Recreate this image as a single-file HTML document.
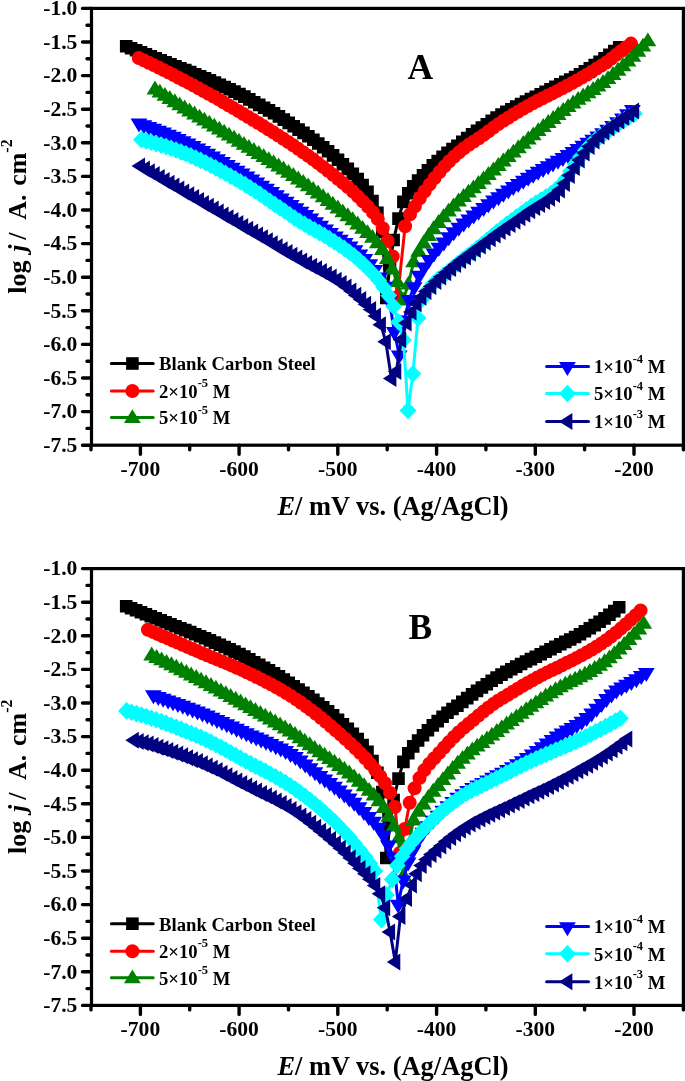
<!DOCTYPE html>
<html lang="en">
<head>
<meta charset="utf-8">
<title>Tafel polarization curves</title>
<style>html,body{margin:0;padding:0;background:#fff}svg{display:block}</style>
</head>
<body>
<svg width="685" height="1081" viewBox="0 0 685 1081" font-family="'Liberation Serif', serif" font-weight="bold" fill="#000">
<rect width="685" height="1081" fill="#fff"/>
<g>
<path d="M126.2 46.2L131.1 48.2L136.1 50.2L141 52.2L145.9 54.2L150.8 56.2L155.8 58.2L160.7 60.2L165.6 62.2L170.5 64.2L175.5 66.2L180.4 68.2L185.3 70.1L190.2 72.1L195.2 74.2L200.1 76.2L205 78.3L209.9 80.4L214.9 82.6L219.8 84.8L224.7 87L229.6 89.2L234.6 91.6L239.5 94L244.4 96.6L249.3 99.4L254.2 102.2L259.2 104.9L264.1 107.7L269 110.4L274 113.3L278.9 116.4L283.8 119.6L288.7 122.9L293.7 126.3L298.6 129.6L303.5 132.9L308.4 136.3L313.4 139.8L318.3 143.5L323.2 147.3L328.1 151.3L333.1 155.4L338 159.7L342.9 164.2L347.8 168.9L352.8 173.8L357.7 179.1L362.6 185L367.5 191.9L372.5 201.1L377.4 212.8L382.3 232L386.3 298L390 264L393.6 240L398.5 218.6L403.4 201.9L408.3 193.2L413.2 186.4L418.1 180.5L423 175.2L427.9 170.2L432.8 165.4L437.7 161.1L442.6 156.8L447.5 152.7L452.5 149L457.4 145.7L462.3 141.9L467.2 138.1L472.1 134.4L477 130.9L481.9 127.5L486.8 124.2L491.7 120.8L496.6 117.6L501.5 114.6L506.4 111.9L511.3 109.2L516.2 106.6L521.1 104L526 101.5L530.9 99.1L535.8 96.7L540.7 94.3L545.6 91.8L550.5 89.3L555.4 86.8L560.3 84.3L565.3 81.9L570.2 79.5L575.1 77L580 74.2L584.9 71.3L589.8 68.2L594.7 65.1L599.6 61.8L604.5 58.4L609.4 54.8L614.3 51.1L619.2 47.2" fill="none" stroke="#000000" stroke-width="3" stroke-linejoin="round"/>
<path d="M119.9 39.9h12.6v12.6h-12.6zM124.8 41.9h12.6v12.6h-12.6zM129.8 43.9h12.6v12.6h-12.6zM134.7 45.9h12.6v12.6h-12.6zM139.6 47.9h12.6v12.6h-12.6zM144.5 49.9h12.6v12.6h-12.6zM149.4 51.9h12.6v12.6h-12.6zM154.4 53.9h12.6v12.6h-12.6zM159.3 55.9h12.6v12.6h-12.6zM164.2 57.9h12.6v12.6h-12.6zM169.2 59.9h12.6v12.6h-12.6zM174.1 61.9h12.6v12.6h-12.6zM179 63.8h12.6v12.6h-12.6zM183.9 65.8h12.6v12.6h-12.6zM188.9 67.9h12.6v12.6h-12.6zM193.8 69.9h12.6v12.6h-12.6zM198.7 72h12.6v12.6h-12.6zM203.6 74.1h12.6v12.6h-12.6zM208.6 76.3h12.6v12.6h-12.6zM213.5 78.5h12.6v12.6h-12.6zM218.4 80.7h12.6v12.6h-12.6zM223.3 82.9h12.6v12.6h-12.6zM228.2 85.3h12.6v12.6h-12.6zM233.2 87.7h12.6v12.6h-12.6zM238.1 90.3h12.6v12.6h-12.6zM243 93.1h12.6v12.6h-12.6zM247.9 95.9h12.6v12.6h-12.6zM252.9 98.6h12.6v12.6h-12.6zM257.8 101.4h12.6v12.6h-12.6zM262.7 104.1h12.6v12.6h-12.6zM267.7 107h12.6v12.6h-12.6zM272.6 110.1h12.6v12.6h-12.6zM277.5 113.3h12.6v12.6h-12.6zM282.4 116.6h12.6v12.6h-12.6zM287.4 120h12.6v12.6h-12.6zM292.3 123.3h12.6v12.6h-12.6zM297.2 126.6h12.6v12.6h-12.6zM302.1 130h12.6v12.6h-12.6zM307.1 133.5h12.6v12.6h-12.6zM312 137.2h12.6v12.6h-12.6zM316.9 141h12.6v12.6h-12.6zM321.8 145h12.6v12.6h-12.6zM326.8 149.1h12.6v12.6h-12.6zM331.7 153.4h12.6v12.6h-12.6zM336.6 157.9h12.6v12.6h-12.6zM341.5 162.6h12.6v12.6h-12.6zM346.5 167.5h12.6v12.6h-12.6zM351.4 172.8h12.6v12.6h-12.6zM356.3 178.7h12.6v12.6h-12.6zM361.2 185.6h12.6v12.6h-12.6zM366.2 194.8h12.6v12.6h-12.6zM371.1 206.5h12.6v12.6h-12.6zM376 225.7h12.6v12.6h-12.6zM380 291.7h12.6v12.6h-12.6zM383.7 257.7h12.6v12.6h-12.6zM387.3 233.7h12.6v12.6h-12.6zM392.2 212.3h12.6v12.6h-12.6zM397.1 195.6h12.6v12.6h-12.6zM402 186.9h12.6v12.6h-12.6zM406.9 180.1h12.6v12.6h-12.6zM411.8 174.2h12.6v12.6h-12.6zM416.7 168.9h12.6v12.6h-12.6zM421.6 163.9h12.6v12.6h-12.6zM426.5 159.1h12.6v12.6h-12.6zM431.4 154.8h12.6v12.6h-12.6zM436.3 150.5h12.6v12.6h-12.6zM441.2 146.4h12.6v12.6h-12.6zM446.2 142.7h12.6v12.6h-12.6zM451.1 139.4h12.6v12.6h-12.6zM456 135.6h12.6v12.6h-12.6zM460.9 131.8h12.6v12.6h-12.6zM465.8 128.1h12.6v12.6h-12.6zM470.7 124.6h12.6v12.6h-12.6zM475.6 121.2h12.6v12.6h-12.6zM480.5 117.9h12.6v12.6h-12.6zM485.4 114.5h12.6v12.6h-12.6zM490.3 111.3h12.6v12.6h-12.6zM495.2 108.3h12.6v12.6h-12.6zM500.1 105.6h12.6v12.6h-12.6zM505 102.9h12.6v12.6h-12.6zM509.9 100.3h12.6v12.6h-12.6zM514.8 97.7h12.6v12.6h-12.6zM519.7 95.2h12.6v12.6h-12.6zM524.6 92.8h12.6v12.6h-12.6zM529.5 90.4h12.6v12.6h-12.6zM534.4 88h12.6v12.6h-12.6zM539.3 85.5h12.6v12.6h-12.6zM544.2 83h12.6v12.6h-12.6zM549.1 80.5h12.6v12.6h-12.6zM554 78h12.6v12.6h-12.6zM559 75.6h12.6v12.6h-12.6zM563.9 73.2h12.6v12.6h-12.6zM568.8 70.7h12.6v12.6h-12.6zM573.7 67.9h12.6v12.6h-12.6zM578.6 65h12.6v12.6h-12.6zM583.5 61.9h12.6v12.6h-12.6zM588.4 58.8h12.6v12.6h-12.6zM593.3 55.5h12.6v12.6h-12.6zM598.2 52.1h12.6v12.6h-12.6zM603.1 48.5h12.6v12.6h-12.6zM608 44.8h12.6v12.6h-12.6zM612.9 40.9h12.6v12.6h-12.6z" fill="#000000"/>
<path d="M138.8 58L143.8 60.3L148.8 62.7L153.7 65.1L158.7 67.6L163.7 70.1L168.7 72.6L173.6 75.1L178.6 77.7L183.6 80.3L188.6 82.9L193.6 85.6L198.5 88.3L203.5 91.1L208.5 93.8L213.5 96.6L218.5 99.4L223.4 102.3L228.4 105.2L233.4 108.1L238.4 111L243.3 114L248.3 117L253.3 120L258.3 123L263.3 126.1L268.2 129.2L273.2 132.3L278.2 135.5L283.2 138.7L288.2 142L293.1 145.3L298.1 148.7L303.1 152.2L308.1 155.7L313 159.3L318 163.1L323 166.9L328 170.8L333 174.8L337.9 178.8L342.9 182.9L347.9 187.1L352.9 191.6L357.9 196.4L362.8 201.4L367.8 206.5L372.8 212.2L377.8 219L382.7 228.3L387.7 241L392.7 256.5L397.6 297L405.1 226.3L410 214.4L414.9 206.4L419.8 198.2L424.7 191.2L429.7 184.4L434.6 178L439.5 172L444.4 166.4L449.3 161.2L454.2 156.5L459.1 152.2L464 148.2L468.9 144.7L473.9 141.5L478.8 138.3L483.7 134.9L488.6 131.2L493.5 127.6L498.4 124.1L503.3 120.8L508.2 117.7L513.1 114.6L518 111.7L523 108.8L527.9 106L532.8 103.3L537.7 100.7L542.6 98.2L547.5 95.8L552.4 93.4L557.3 90.9L562.2 88.3L567.2 85.7L572.1 83.1L577 80.4L581.9 77.6L586.8 74.7L591.7 71.7L596.6 68.6L601.5 65.6L606.4 62.5L611.4 58.6L616.3 54.8L621.2 51L626.1 47.3L631 43.6" fill="none" stroke="#ff0000" stroke-width="3" stroke-linejoin="round"/>
<path d="M131.8 58a7 7 0 1 0 14 0a7 7 0 1 0 -14 0zM136.8 60.3a7 7 0 1 0 14 0a7 7 0 1 0 -14 0zM141.8 62.7a7 7 0 1 0 14 0a7 7 0 1 0 -14 0zM146.7 65.1a7 7 0 1 0 14 0a7 7 0 1 0 -14 0zM151.7 67.6a7 7 0 1 0 14 0a7 7 0 1 0 -14 0zM156.7 70.1a7 7 0 1 0 14 0a7 7 0 1 0 -14 0zM161.7 72.6a7 7 0 1 0 14 0a7 7 0 1 0 -14 0zM166.6 75.1a7 7 0 1 0 14 0a7 7 0 1 0 -14 0zM171.6 77.7a7 7 0 1 0 14 0a7 7 0 1 0 -14 0zM176.6 80.3a7 7 0 1 0 14 0a7 7 0 1 0 -14 0zM181.6 82.9a7 7 0 1 0 14 0a7 7 0 1 0 -14 0zM186.6 85.6a7 7 0 1 0 14 0a7 7 0 1 0 -14 0zM191.5 88.3a7 7 0 1 0 14 0a7 7 0 1 0 -14 0zM196.5 91.1a7 7 0 1 0 14 0a7 7 0 1 0 -14 0zM201.5 93.8a7 7 0 1 0 14 0a7 7 0 1 0 -14 0zM206.5 96.6a7 7 0 1 0 14 0a7 7 0 1 0 -14 0zM211.5 99.4a7 7 0 1 0 14 0a7 7 0 1 0 -14 0zM216.4 102.3a7 7 0 1 0 14 0a7 7 0 1 0 -14 0zM221.4 105.2a7 7 0 1 0 14 0a7 7 0 1 0 -14 0zM226.4 108.1a7 7 0 1 0 14 0a7 7 0 1 0 -14 0zM231.4 111a7 7 0 1 0 14 0a7 7 0 1 0 -14 0zM236.3 114a7 7 0 1 0 14 0a7 7 0 1 0 -14 0zM241.3 117a7 7 0 1 0 14 0a7 7 0 1 0 -14 0zM246.3 120a7 7 0 1 0 14 0a7 7 0 1 0 -14 0zM251.3 123a7 7 0 1 0 14 0a7 7 0 1 0 -14 0zM256.3 126.1a7 7 0 1 0 14 0a7 7 0 1 0 -14 0zM261.2 129.2a7 7 0 1 0 14 0a7 7 0 1 0 -14 0zM266.2 132.3a7 7 0 1 0 14 0a7 7 0 1 0 -14 0zM271.2 135.5a7 7 0 1 0 14 0a7 7 0 1 0 -14 0zM276.2 138.7a7 7 0 1 0 14 0a7 7 0 1 0 -14 0zM281.2 142a7 7 0 1 0 14 0a7 7 0 1 0 -14 0zM286.1 145.3a7 7 0 1 0 14 0a7 7 0 1 0 -14 0zM291.1 148.7a7 7 0 1 0 14 0a7 7 0 1 0 -14 0zM296.1 152.2a7 7 0 1 0 14 0a7 7 0 1 0 -14 0zM301.1 155.7a7 7 0 1 0 14 0a7 7 0 1 0 -14 0zM306 159.3a7 7 0 1 0 14 0a7 7 0 1 0 -14 0zM311 163.1a7 7 0 1 0 14 0a7 7 0 1 0 -14 0zM316 166.9a7 7 0 1 0 14 0a7 7 0 1 0 -14 0zM321 170.8a7 7 0 1 0 14 0a7 7 0 1 0 -14 0zM326 174.8a7 7 0 1 0 14 0a7 7 0 1 0 -14 0zM330.9 178.8a7 7 0 1 0 14 0a7 7 0 1 0 -14 0zM335.9 182.9a7 7 0 1 0 14 0a7 7 0 1 0 -14 0zM340.9 187.1a7 7 0 1 0 14 0a7 7 0 1 0 -14 0zM345.9 191.6a7 7 0 1 0 14 0a7 7 0 1 0 -14 0zM350.9 196.4a7 7 0 1 0 14 0a7 7 0 1 0 -14 0zM355.8 201.4a7 7 0 1 0 14 0a7 7 0 1 0 -14 0zM360.8 206.5a7 7 0 1 0 14 0a7 7 0 1 0 -14 0zM365.8 212.2a7 7 0 1 0 14 0a7 7 0 1 0 -14 0zM370.8 219a7 7 0 1 0 14 0a7 7 0 1 0 -14 0zM375.7 228.3a7 7 0 1 0 14 0a7 7 0 1 0 -14 0zM380.7 241a7 7 0 1 0 14 0a7 7 0 1 0 -14 0zM385.7 256.5a7 7 0 1 0 14 0a7 7 0 1 0 -14 0zM390.6 297a7 7 0 1 0 14 0a7 7 0 1 0 -14 0zM398.1 226.3a7 7 0 1 0 14 0a7 7 0 1 0 -14 0zM403 214.4a7 7 0 1 0 14 0a7 7 0 1 0 -14 0zM407.9 206.4a7 7 0 1 0 14 0a7 7 0 1 0 -14 0zM412.8 198.2a7 7 0 1 0 14 0a7 7 0 1 0 -14 0zM417.7 191.2a7 7 0 1 0 14 0a7 7 0 1 0 -14 0zM422.7 184.4a7 7 0 1 0 14 0a7 7 0 1 0 -14 0zM427.6 178a7 7 0 1 0 14 0a7 7 0 1 0 -14 0zM432.5 172a7 7 0 1 0 14 0a7 7 0 1 0 -14 0zM437.4 166.4a7 7 0 1 0 14 0a7 7 0 1 0 -14 0zM442.3 161.2a7 7 0 1 0 14 0a7 7 0 1 0 -14 0zM447.2 156.5a7 7 0 1 0 14 0a7 7 0 1 0 -14 0zM452.1 152.2a7 7 0 1 0 14 0a7 7 0 1 0 -14 0zM457 148.2a7 7 0 1 0 14 0a7 7 0 1 0 -14 0zM461.9 144.7a7 7 0 1 0 14 0a7 7 0 1 0 -14 0zM466.9 141.5a7 7 0 1 0 14 0a7 7 0 1 0 -14 0zM471.8 138.3a7 7 0 1 0 14 0a7 7 0 1 0 -14 0zM476.7 134.9a7 7 0 1 0 14 0a7 7 0 1 0 -14 0zM481.6 131.2a7 7 0 1 0 14 0a7 7 0 1 0 -14 0zM486.5 127.6a7 7 0 1 0 14 0a7 7 0 1 0 -14 0zM491.4 124.1a7 7 0 1 0 14 0a7 7 0 1 0 -14 0zM496.3 120.8a7 7 0 1 0 14 0a7 7 0 1 0 -14 0zM501.2 117.7a7 7 0 1 0 14 0a7 7 0 1 0 -14 0zM506.1 114.6a7 7 0 1 0 14 0a7 7 0 1 0 -14 0zM511 111.7a7 7 0 1 0 14 0a7 7 0 1 0 -14 0zM516 108.8a7 7 0 1 0 14 0a7 7 0 1 0 -14 0zM520.9 106a7 7 0 1 0 14 0a7 7 0 1 0 -14 0zM525.8 103.3a7 7 0 1 0 14 0a7 7 0 1 0 -14 0zM530.7 100.7a7 7 0 1 0 14 0a7 7 0 1 0 -14 0zM535.6 98.2a7 7 0 1 0 14 0a7 7 0 1 0 -14 0zM540.5 95.8a7 7 0 1 0 14 0a7 7 0 1 0 -14 0zM545.4 93.4a7 7 0 1 0 14 0a7 7 0 1 0 -14 0zM550.3 90.9a7 7 0 1 0 14 0a7 7 0 1 0 -14 0zM555.2 88.3a7 7 0 1 0 14 0a7 7 0 1 0 -14 0zM560.2 85.7a7 7 0 1 0 14 0a7 7 0 1 0 -14 0zM565.1 83.1a7 7 0 1 0 14 0a7 7 0 1 0 -14 0zM570 80.4a7 7 0 1 0 14 0a7 7 0 1 0 -14 0zM574.9 77.6a7 7 0 1 0 14 0a7 7 0 1 0 -14 0zM579.8 74.7a7 7 0 1 0 14 0a7 7 0 1 0 -14 0zM584.7 71.7a7 7 0 1 0 14 0a7 7 0 1 0 -14 0zM589.6 68.6a7 7 0 1 0 14 0a7 7 0 1 0 -14 0zM594.5 65.6a7 7 0 1 0 14 0a7 7 0 1 0 -14 0zM599.4 62.5a7 7 0 1 0 14 0a7 7 0 1 0 -14 0zM604.4 58.6a7 7 0 1 0 14 0a7 7 0 1 0 -14 0zM609.3 54.8a7 7 0 1 0 14 0a7 7 0 1 0 -14 0zM614.2 51a7 7 0 1 0 14 0a7 7 0 1 0 -14 0zM619.1 47.3a7 7 0 1 0 14 0a7 7 0 1 0 -14 0zM624 43.6a7 7 0 1 0 14 0a7 7 0 1 0 -14 0z" fill="#ff0000"/>
<path d="M155 88.9L159.9 92.1L164.9 95.3L169.8 98.5L174.8 101.7L179.7 104.8L184.7 107.9L189.6 111L194.5 114L199.5 117.1L204.4 120.1L209.4 123.1L214.3 126.1L219.3 129.1L224.2 132.1L229.1 135.1L234.1 138.1L239 141.2L244 144.3L248.9 147.3L253.9 150.4L258.8 153.5L263.7 156.5L268.7 159.6L273.6 162.7L278.6 165.9L283.5 169L288.5 172.3L293.4 175.5L298.3 178.9L303.3 182.3L308.2 185.8L313.2 189.4L318.1 193L323.1 196.7L328 200.5L332.9 204.2L337.9 208L342.8 211.8L347.8 215.7L352.7 219.7L357.7 223.9L362.6 228.3L367.5 232.6L372.5 237.3L377.4 242.7L382.4 249.5L387.3 258.6L392.3 269.1L397.2 281.5L403 300L408.5 284L413.6 261.8L418.6 251.2L423.6 242.9L428.6 235.5L433.5 228.7L438.5 222.5L443.5 216.7L448.5 211.1L453.5 205.9L458.5 201L463.5 196.5L468.4 192.1L473.4 187.8L478.4 183.4L483.4 178.9L488.4 174.4L493.4 169.9L498.3 165.5L503.3 161L508.3 156.6L513.3 152.1L518.3 147.7L523.3 143.3L528.3 139L533.2 134.8L538.2 130.6L543.2 126.5L548.2 122.4L553.2 118.4L558.2 114.4L563.2 110.5L568.1 106.6L573.1 102.9L578.1 99.3L583.1 95.9L588.1 92.7L593.1 89.4L598 86L603 82.5L608 78.6L613 74.5L618 70.2L623 65.7L628 61.1L632.9 56.3L637.9 51.3L642.9 46.1L647.9 40.8" fill="none" stroke="#008000" stroke-width="3" stroke-linejoin="round"/>
<path d="M155 80.5L163.4 94.4L146.6 94.4zM159.9 83.7L168.3 97.6L151.5 97.6zM164.9 86.9L173.3 100.8L156.5 100.8zM169.8 90.1L178.2 104L161.4 104zM174.8 93.3L183.2 107.2L166.4 107.2zM179.7 96.4L188.1 110.3L171.3 110.3zM184.7 99.5L193.1 113.4L176.3 113.4zM189.6 102.6L198 116.5L181.2 116.5zM194.5 105.6L202.9 119.5L186.1 119.5zM199.5 108.7L207.9 122.6L191.1 122.6zM204.4 111.7L212.8 125.6L196 125.6zM209.4 114.7L217.8 128.6L201 128.6zM214.3 117.7L222.7 131.6L205.9 131.6zM219.3 120.7L227.7 134.6L210.9 134.6zM224.2 123.7L232.6 137.6L215.8 137.6zM229.1 126.7L237.5 140.6L220.7 140.6zM234.1 129.7L242.5 143.6L225.7 143.6zM239 132.8L247.4 146.7L230.6 146.7zM244 135.9L252.4 149.8L235.6 149.8zM248.9 138.9L257.3 152.8L240.5 152.8zM253.9 142L262.3 155.9L245.5 155.9zM258.8 145.1L267.2 159L250.4 159zM263.7 148.1L272.1 162L255.3 162zM268.7 151.2L277.1 165.1L260.3 165.1zM273.6 154.3L282 168.2L265.2 168.2zM278.6 157.5L287 171.4L270.2 171.4zM283.5 160.6L291.9 174.5L275.1 174.5zM288.5 163.9L296.9 177.8L280.1 177.8zM293.4 167.1L301.8 181L285 181zM298.3 170.5L306.7 184.4L289.9 184.4zM303.3 173.9L311.7 187.8L294.9 187.8zM308.2 177.4L316.6 191.3L299.8 191.3zM313.2 181L321.6 194.9L304.8 194.9zM318.1 184.6L326.5 198.5L309.7 198.5zM323.1 188.3L331.5 202.2L314.7 202.2zM328 192.1L336.4 206L319.6 206zM332.9 195.8L341.3 209.7L324.5 209.7zM337.9 199.6L346.3 213.5L329.5 213.5zM342.8 203.4L351.2 217.3L334.4 217.3zM347.8 207.3L356.2 221.2L339.4 221.2zM352.7 211.3L361.1 225.2L344.3 225.2zM357.7 215.5L366.1 229.4L349.3 229.4zM362.6 219.9L371 233.8L354.2 233.8zM367.5 224.2L375.9 238.1L359.1 238.1zM372.5 228.9L380.9 242.8L364.1 242.8zM377.4 234.3L385.8 248.2L369 248.2zM382.4 241.1L390.8 255L374 255zM387.3 250.2L395.7 264.1L378.9 264.1zM392.3 260.7L400.7 274.6L383.9 274.6zM397.2 273.1L405.6 287L388.8 287zM403 291.6L411.4 305.5L394.6 305.5zM408.5 275.6L416.9 289.5L400.1 289.5zM413.6 253.4L422 267.3L405.2 267.3zM418.6 242.8L427 256.7L410.2 256.7zM423.6 234.5L432 248.4L415.2 248.4zM428.6 227.1L437 241L420.2 241zM433.5 220.3L441.9 234.2L425.1 234.2zM438.5 214.1L446.9 228L430.1 228zM443.5 208.3L451.9 222.2L435.1 222.2zM448.5 202.7L456.9 216.6L440.1 216.6zM453.5 197.5L461.9 211.4L445.1 211.4zM458.5 192.6L466.9 206.5L450.1 206.5zM463.5 188.1L471.9 202L455.1 202zM468.4 183.7L476.8 197.6L460 197.6zM473.4 179.4L481.8 193.3L465 193.3zM478.4 175L486.8 188.9L470 188.9zM483.4 170.5L491.8 184.4L475 184.4zM488.4 166L496.8 179.9L480 179.9zM493.4 161.5L501.8 175.4L485 175.4zM498.3 157.1L506.7 171L489.9 171zM503.3 152.6L511.7 166.5L494.9 166.5zM508.3 148.2L516.7 162.1L499.9 162.1zM513.3 143.7L521.7 157.6L504.9 157.6zM518.3 139.3L526.7 153.2L509.9 153.2zM523.3 134.9L531.7 148.8L514.9 148.8zM528.3 130.6L536.7 144.5L519.9 144.5zM533.2 126.4L541.6 140.3L524.8 140.3zM538.2 122.2L546.6 136.1L529.8 136.1zM543.2 118.1L551.6 132L534.8 132zM548.2 114L556.6 127.9L539.8 127.9zM553.2 110L561.6 123.9L544.8 123.9zM558.2 106L566.6 119.9L549.8 119.9zM563.2 102.1L571.6 116L554.8 116zM568.1 98.2L576.5 112.1L559.7 112.1zM573.1 94.5L581.5 108.4L564.7 108.4zM578.1 90.9L586.5 104.8L569.7 104.8zM583.1 87.5L591.5 101.4L574.7 101.4zM588.1 84.3L596.5 98.2L579.7 98.2zM593.1 81L601.5 94.9L584.7 94.9zM598 77.6L606.4 91.5L589.6 91.5zM603 74.1L611.4 88L594.6 88zM608 70.2L616.4 84.1L599.6 84.1zM613 66.1L621.4 80L604.6 80zM618 61.8L626.4 75.7L609.6 75.7zM623 57.3L631.4 71.2L614.6 71.2zM628 52.7L636.4 66.6L619.6 66.6zM632.9 47.9L641.3 61.8L624.5 61.8zM637.9 42.9L646.3 56.8L629.5 56.8zM642.9 37.7L651.3 51.6L634.5 51.6zM647.9 32.4L656.3 46.3L639.5 46.3z" fill="#008000"/>
<path d="M139 123L143.9 124.7L148.8 126.4L153.7 128.2L158.6 130.1L163.5 132L168.5 134.1L173.4 136.2L178.3 138.3L183.2 140.6L188.1 142.9L193 145.3L197.9 147.9L202.8 150.5L207.7 153.2L212.6 155.9L217.6 158.7L222.5 161.5L227.4 164.4L232.3 167.2L237.2 170.1L242.1 173L247 176L251.9 179L256.8 182L261.7 185.1L266.6 188.2L271.6 191.4L276.5 194.6L281.4 197.8L286.3 201.1L291.2 204.4L296.1 207.7L301 211.1L305.9 214.5L310.8 218L315.7 221.6L320.7 225.2L325.6 228.8L330.5 232.3L335.4 235.8L340.3 239.1L345.2 242.4L350.1 245.9L355 249.7L359.9 253.9L364.8 258.5L369.8 263.6L374.7 269.5L379.6 276.8L384.5 286.2L389.4 300.7L394.3 331.3L399.2 355L404.2 320L409.2 299.5L414.1 286.7L419.1 275.1L424 266.8L429 259.5L434 253L438.9 247.2L443.9 241.8L448.8 236.7L453.8 231.7L458.8 227.2L463.7 222.9L468.7 218.9L473.7 214.9L478.6 211.1L483.6 207.3L488.5 203.6L493.5 200L498.5 196.6L503.4 193.2L508.4 189.8L513.3 186.5L518.3 183.3L523.3 180.2L528.2 177.1L533.2 174.1L538.1 171.2L543.1 168.5L548.1 165.7L553 163L558 160.2L562.9 157.3L567.9 154.3L572.9 151.3L577.8 148.3L582.8 145.2L587.8 142.2L592.7 139.1L597.7 136L602.6 132.6L607.6 129.2L612.6 125.5L617.5 121.7L622.5 117.8L627.4 113.7L632.4 109.5" fill="none" stroke="#0000ff" stroke-width="3" stroke-linejoin="round"/>
<path d="M139 132.6L147.4 118.6L130.6 118.6zM143.9 134.3L152.3 120.3L135.5 120.3zM148.8 136L157.2 122L140.4 122zM153.7 137.8L162.1 123.8L145.3 123.8zM158.6 139.7L167 125.7L150.2 125.7zM163.5 141.6L171.9 127.6L155.1 127.6zM168.5 143.7L176.9 129.7L160.1 129.7zM173.4 145.8L181.8 131.8L165 131.8zM178.3 147.9L186.7 133.9L169.9 133.9zM183.2 150.2L191.6 136.2L174.8 136.2zM188.1 152.5L196.5 138.5L179.7 138.5zM193 154.9L201.4 140.9L184.6 140.9zM197.9 157.5L206.3 143.5L189.5 143.5zM202.8 160.1L211.2 146.1L194.4 146.1zM207.7 162.8L216.1 148.8L199.3 148.8zM212.6 165.5L221 151.5L204.2 151.5zM217.6 168.3L226 154.3L209.2 154.3zM222.5 171.1L230.9 157.1L214.1 157.1zM227.4 174L235.8 160L219 160zM232.3 176.8L240.7 162.8L223.9 162.8zM237.2 179.7L245.6 165.7L228.8 165.7zM242.1 182.6L250.5 168.6L233.7 168.6zM247 185.6L255.4 171.6L238.6 171.6zM251.9 188.6L260.3 174.6L243.5 174.6zM256.8 191.6L265.2 177.6L248.4 177.6zM261.7 194.7L270.1 180.7L253.3 180.7zM266.6 197.8L275 183.8L258.2 183.8zM271.6 201L280 187L263.2 187zM276.5 204.2L284.9 190.2L268.1 190.2zM281.4 207.4L289.8 193.4L273 193.4zM286.3 210.7L294.7 196.7L277.9 196.7zM291.2 214L299.6 200L282.8 200zM296.1 217.3L304.5 203.3L287.7 203.3zM301 220.7L309.4 206.7L292.6 206.7zM305.9 224.1L314.3 210.1L297.5 210.1zM310.8 227.6L319.2 213.6L302.4 213.6zM315.7 231.2L324.1 217.2L307.3 217.2zM320.7 234.8L329.1 220.8L312.3 220.8zM325.6 238.4L334 224.4L317.2 224.4zM330.5 241.9L338.9 227.9L322.1 227.9zM335.4 245.4L343.8 231.4L327 231.4zM340.3 248.7L348.7 234.7L331.9 234.7zM345.2 252L353.6 238L336.8 238zM350.1 255.5L358.5 241.5L341.7 241.5zM355 259.3L363.4 245.3L346.6 245.3zM359.9 263.5L368.3 249.5L351.5 249.5zM364.8 268.1L373.2 254.1L356.4 254.1zM369.8 273.2L378.2 259.2L361.4 259.2zM374.7 279.1L383.1 265.1L366.3 265.1zM379.6 286.4L388 272.4L371.2 272.4zM384.5 295.8L392.9 281.8L376.1 281.8zM389.4 310.3L397.8 296.3L381 296.3zM394.3 340.9L402.7 326.9L385.9 326.9zM399.2 364.6L407.6 350.6L390.8 350.6zM404.2 329.6L412.6 315.6L395.8 315.6zM409.2 309.1L417.6 295.1L400.8 295.1zM414.1 296.3L422.5 282.3L405.7 282.3zM419.1 284.7L427.5 270.7L410.7 270.7zM424 276.4L432.4 262.4L415.6 262.4zM429 269.1L437.4 255.1L420.6 255.1zM434 262.6L442.4 248.6L425.6 248.6zM438.9 256.8L447.3 242.8L430.5 242.8zM443.9 251.4L452.3 237.4L435.5 237.4zM448.8 246.3L457.2 232.3L440.4 232.3zM453.8 241.3L462.2 227.3L445.4 227.3zM458.8 236.8L467.2 222.8L450.4 222.8zM463.7 232.5L472.1 218.5L455.3 218.5zM468.7 228.5L477.1 214.5L460.3 214.5zM473.7 224.5L482.1 210.5L465.3 210.5zM478.6 220.7L487 206.7L470.2 206.7zM483.6 216.9L492 202.9L475.2 202.9zM488.5 213.2L496.9 199.2L480.1 199.2zM493.5 209.6L501.9 195.6L485.1 195.6zM498.5 206.2L506.9 192.2L490.1 192.2zM503.4 202.8L511.8 188.8L495 188.8zM508.4 199.4L516.8 185.4L500 185.4zM513.3 196.1L521.7 182.1L504.9 182.1zM518.3 192.9L526.7 178.9L509.9 178.9zM523.3 189.8L531.7 175.8L514.9 175.8zM528.2 186.7L536.6 172.7L519.8 172.7zM533.2 183.7L541.6 169.7L524.8 169.7zM538.1 180.8L546.5 166.8L529.7 166.8zM543.1 178.1L551.5 164.1L534.7 164.1zM548.1 175.3L556.5 161.3L539.7 161.3zM553 172.6L561.4 158.6L544.6 158.6zM558 169.8L566.4 155.8L549.6 155.8zM562.9 166.9L571.3 152.9L554.5 152.9zM567.9 163.9L576.3 149.9L559.5 149.9zM572.9 160.9L581.3 146.9L564.5 146.9zM577.8 157.9L586.2 143.9L569.4 143.9zM582.8 154.8L591.2 140.8L574.4 140.8zM587.8 151.8L596.2 137.8L579.4 137.8zM592.7 148.7L601.1 134.7L584.3 134.7zM597.7 145.6L606.1 131.6L589.3 131.6zM602.6 142.2L611 128.2L594.2 128.2zM607.6 138.8L616 124.8L599.2 124.8zM612.6 135.1L621 121.1L604.2 121.1zM617.5 131.3L625.9 117.3L609.1 117.3zM622.5 127.4L630.9 113.4L614.1 113.4zM627.4 123.3L635.8 109.3L619 109.3zM632.4 119.1L640.8 105.1L624 105.1z" fill="#0000ff"/>
<path d="M141.4 139.7L146.3 140.9L151.3 142.2L156.2 143.6L161.2 145.1L166.1 146.6L171.1 148.3L176 150L181 151.9L185.9 153.8L190.9 155.9L195.8 158.1L200.7 160.4L205.7 162.8L210.6 165.3L215.6 167.9L220.5 170.6L225.5 173.3L230.4 176L235.4 178.8L240.3 181.7L245.3 184.6L250.2 187.7L255.1 191L260.1 194.3L265 197.7L270 201.2L274.9 204.6L279.9 207.9L284.8 211.3L289.8 214.7L294.7 218.1L299.6 221.3L304.6 224.3L309.5 227.1L314.5 229.9L319.4 232.6L324.4 235.5L329.3 238.6L334.3 241.8L339.2 245L344.2 248.4L349.1 252L354 255.8L359 260.1L363.9 264.6L368.9 269.4L373.8 274.6L378.8 280.5L383.7 287.4L388.7 295.6L393.6 306.4L398.6 322L403.5 340L408 410.4L412.9 373.7L418 318L422.9 298.2L427.8 290.1L432.8 284.1L437.7 279.6L442.6 275.9L447.5 272.1L452.4 267.8L457.4 263.7L462.3 259.8L467.2 256L472.1 252.2L477 248.4L482 244.4L486.9 240.3L491.8 236.2L496.7 232.1L501.6 228.2L506.6 224.4L511.5 220.7L516.4 217.1L521.3 213.5L526.2 209.9L531.2 206.4L536.1 203.1L541 200L545.9 197L550.9 193.7L555.8 189.8L560.7 185.3L565.6 178.9L570.5 171.2L575.5 163.9L580.4 157L585.3 150.4L590.2 144.8L595.1 140.4L600.1 136.6L605 133L609.9 129.5L614.8 126L619.7 122.7L624.7 119.5L629.6 116.5L634.5 113.6" fill="none" stroke="#00ffff" stroke-width="3" stroke-linejoin="round"/>
<path d="M141.4 130.9L149.8 139.7L141.4 148.5L133 139.7zM146.3 132.1L154.7 140.9L146.3 149.7L137.9 140.9zM151.3 133.4L159.7 142.2L151.3 151L142.9 142.2zM156.2 134.8L164.6 143.6L156.2 152.4L147.8 143.6zM161.2 136.3L169.6 145.1L161.2 153.9L152.8 145.1zM166.1 137.8L174.5 146.6L166.1 155.4L157.7 146.6zM171.1 139.5L179.5 148.3L171.1 157.1L162.7 148.3zM176 141.2L184.4 150L176 158.8L167.6 150zM181 143.1L189.4 151.9L181 160.7L172.6 151.9zM185.9 145L194.3 153.8L185.9 162.6L177.5 153.8zM190.9 147.1L199.3 155.9L190.9 164.7L182.5 155.9zM195.8 149.3L204.2 158.1L195.8 166.9L187.4 158.1zM200.7 151.6L209.1 160.4L200.7 169.2L192.3 160.4zM205.7 154L214.1 162.8L205.7 171.6L197.3 162.8zM210.6 156.5L219 165.3L210.6 174.1L202.2 165.3zM215.6 159.1L224 167.9L215.6 176.7L207.2 167.9zM220.5 161.8L228.9 170.6L220.5 179.4L212.1 170.6zM225.5 164.5L233.9 173.3L225.5 182.1L217.1 173.3zM230.4 167.2L238.8 176L230.4 184.8L222 176zM235.4 170L243.8 178.8L235.4 187.6L227 178.8zM240.3 172.9L248.7 181.7L240.3 190.5L231.9 181.7zM245.3 175.8L253.7 184.6L245.3 193.4L236.9 184.6zM250.2 178.9L258.6 187.7L250.2 196.5L241.8 187.7zM255.1 182.2L263.5 191L255.1 199.8L246.7 191zM260.1 185.5L268.5 194.3L260.1 203.1L251.7 194.3zM265 188.9L273.4 197.7L265 206.5L256.6 197.7zM270 192.4L278.4 201.2L270 210L261.6 201.2zM274.9 195.8L283.3 204.6L274.9 213.4L266.5 204.6zM279.9 199.1L288.3 207.9L279.9 216.7L271.5 207.9zM284.8 202.5L293.2 211.3L284.8 220.1L276.4 211.3zM289.8 205.9L298.2 214.7L289.8 223.5L281.4 214.7zM294.7 209.3L303.1 218.1L294.7 226.9L286.3 218.1zM299.6 212.5L308 221.3L299.6 230.1L291.2 221.3zM304.6 215.5L313 224.3L304.6 233.1L296.2 224.3zM309.5 218.3L317.9 227.1L309.5 235.9L301.1 227.1zM314.5 221.1L322.9 229.9L314.5 238.7L306.1 229.9zM319.4 223.8L327.8 232.6L319.4 241.4L311 232.6zM324.4 226.7L332.8 235.5L324.4 244.3L316 235.5zM329.3 229.8L337.7 238.6L329.3 247.4L320.9 238.6zM334.3 233L342.7 241.8L334.3 250.6L325.9 241.8zM339.2 236.2L347.6 245L339.2 253.8L330.8 245zM344.2 239.6L352.6 248.4L344.2 257.2L335.8 248.4zM349.1 243.2L357.5 252L349.1 260.8L340.7 252zM354 247L362.4 255.8L354 264.6L345.6 255.8zM359 251.3L367.4 260.1L359 268.9L350.6 260.1zM363.9 255.8L372.3 264.6L363.9 273.4L355.5 264.6zM368.9 260.6L377.3 269.4L368.9 278.2L360.5 269.4zM373.8 265.8L382.2 274.6L373.8 283.4L365.4 274.6zM378.8 271.7L387.2 280.5L378.8 289.3L370.4 280.5zM383.7 278.6L392.1 287.4L383.7 296.2L375.3 287.4zM388.7 286.8L397.1 295.6L388.7 304.4L380.3 295.6zM393.6 297.6L402 306.4L393.6 315.2L385.2 306.4zM398.6 313.2L407 322L398.6 330.8L390.2 322zM403.5 331.2L411.9 340L403.5 348.8L395.1 340zM408 401.6L416.4 410.4L408 419.2L399.6 410.4zM412.9 364.9L421.3 373.7L412.9 382.5L404.5 373.7zM418 309.2L426.4 318L418 326.8L409.6 318zM422.9 289.4L431.3 298.2L422.9 307L414.5 298.2zM427.8 281.3L436.2 290.1L427.8 298.9L419.4 290.1zM432.8 275.3L441.2 284.1L432.8 292.9L424.4 284.1zM437.7 270.8L446.1 279.6L437.7 288.4L429.3 279.6zM442.6 267.1L451 275.9L442.6 284.7L434.2 275.9zM447.5 263.3L455.9 272.1L447.5 280.9L439.1 272.1zM452.4 259L460.8 267.8L452.4 276.6L444 267.8zM457.4 254.9L465.8 263.7L457.4 272.5L449 263.7zM462.3 251L470.7 259.8L462.3 268.6L453.9 259.8zM467.2 247.2L475.6 256L467.2 264.8L458.8 256zM472.1 243.4L480.5 252.2L472.1 261L463.7 252.2zM477 239.6L485.4 248.4L477 257.2L468.6 248.4zM482 235.6L490.4 244.4L482 253.2L473.6 244.4zM486.9 231.5L495.3 240.3L486.9 249.1L478.5 240.3zM491.8 227.4L500.2 236.2L491.8 245L483.4 236.2zM496.7 223.3L505.1 232.1L496.7 240.9L488.3 232.1zM501.6 219.4L510 228.2L501.6 237L493.2 228.2zM506.6 215.6L515 224.4L506.6 233.2L498.2 224.4zM511.5 211.9L519.9 220.7L511.5 229.5L503.1 220.7zM516.4 208.3L524.8 217.1L516.4 225.9L508 217.1zM521.3 204.7L529.7 213.5L521.3 222.3L512.9 213.5zM526.2 201.1L534.6 209.9L526.2 218.7L517.9 209.9zM531.2 197.6L539.6 206.4L531.2 215.2L522.8 206.4zM536.1 194.3L544.5 203.1L536.1 211.9L527.7 203.1zM541 191.2L549.4 200L541 208.8L532.6 200zM545.9 188.2L554.3 197L545.9 205.8L537.5 197zM550.9 184.9L559.3 193.7L550.9 202.5L542.5 193.7zM555.8 181L564.2 189.8L555.8 198.6L547.4 189.8zM560.7 176.5L569.1 185.3L560.7 194.1L552.3 185.3zM565.6 170.1L574 178.9L565.6 187.7L557.2 178.9zM570.5 162.4L578.9 171.2L570.5 180L562.1 171.2zM575.5 155.1L583.9 163.9L575.5 172.7L567.1 163.9zM580.4 148.2L588.8 157L580.4 165.8L572 157zM585.3 141.6L593.7 150.4L585.3 159.2L576.9 150.4zM590.2 136L598.6 144.8L590.2 153.6L581.8 144.8zM595.1 131.6L603.5 140.4L595.1 149.2L586.7 140.4zM600.1 127.8L608.5 136.6L600.1 145.4L591.7 136.6zM605 124.2L613.4 133L605 141.8L596.6 133zM609.9 120.7L618.3 129.5L609.9 138.3L601.5 129.5zM614.8 117.2L623.2 126L614.8 134.8L606.4 126zM619.7 113.9L628.1 122.7L619.7 131.5L611.3 122.7zM624.7 110.7L633.1 119.5L624.7 128.3L616.3 119.5zM629.6 107.7L638 116.5L629.6 125.3L621.2 116.5zM634.5 104.8L642.9 113.6L634.5 122.4L626.1 113.6z" fill="#00ffff"/>
<path d="M140 166L144.9 168.9L149.8 171.8L154.7 174.6L159.7 177.5L164.6 180.4L169.5 183.3L174.4 186.1L179.3 189L184.2 191.9L189.2 194.8L194.1 197.6L199 200.5L203.9 203.4L208.8 206.3L213.7 209.1L218.7 212L223.6 214.9L228.5 217.8L233.4 220.6L238.3 223.5L243.2 226.4L248.2 229.2L253.1 232.1L258 234.9L262.9 237.8L267.8 240.7L272.7 243.7L277.6 246.8L282.6 249.7L287.5 252.5L292.4 255.3L297.3 258.1L302.2 260.9L307.1 263.6L312.1 266.2L317 268.8L321.9 271.5L326.8 274.2L331.7 277.1L336.6 280.2L341.6 283.5L346.5 287.1L351.4 291L356.3 295.2L361.2 299.6L366.1 304.3L371.1 309.5L376 315.9L380.9 324.8L385.8 341.7L391.4 378.5L396.3 371.6L401.2 339.7L406.6 323L411.5 311.9L416.5 303.8L421.4 297.2L426.4 291.5L431.3 286.4L436.3 281.6L441.2 277.1L446.2 272.8L451.1 268.5L456.1 264.5L461 260.6L465.9 256.9L470.9 253.2L475.8 249.6L480.8 245.9L485.7 242.3L490.7 238.7L495.6 235.1L500.6 231.6L505.5 228.1L510.5 224.6L515.4 221.2L520.4 217.7L525.3 214.3L530.2 210.8L535.2 207.6L540.1 204.6L545.1 201.6L550 198.3L555 194.6L559.9 190.1L564.9 183.6L569.8 175.4L574.8 167.4L579.7 160.1L584.6 153L589.6 146.5L594.5 141L599.5 136.2L604.4 132L609.4 128.1L614.3 124.5L619.3 121L624.2 117.6L629.2 114.2L634.1 110.9" fill="none" stroke="#000080" stroke-width="3" stroke-linejoin="round"/>
<path d="M131.5 166L145 157.5L145 174.5zM136.4 168.9L149.9 160.4L149.9 177.4zM141.3 171.8L154.8 163.3L154.8 180.3zM146.2 174.6L159.7 166.1L159.7 183.1zM151.2 177.5L164.7 169L164.7 186zM156.1 180.4L169.6 171.9L169.6 188.9zM161 183.3L174.5 174.8L174.5 191.8zM165.9 186.1L179.4 177.6L179.4 194.6zM170.8 189L184.3 180.5L184.3 197.5zM175.7 191.9L189.2 183.4L189.2 200.4zM180.7 194.8L194.2 186.3L194.2 203.3zM185.6 197.6L199.1 189.1L199.1 206.1zM190.5 200.5L204 192L204 209zM195.4 203.4L208.9 194.9L208.9 211.9zM200.3 206.3L213.8 197.8L213.8 214.8zM205.2 209.1L218.7 200.6L218.7 217.6zM210.2 212L223.7 203.5L223.7 220.5zM215.1 214.9L228.6 206.4L228.6 223.4zM220 217.8L233.5 209.3L233.5 226.3zM224.9 220.6L238.4 212.1L238.4 229.1zM229.8 223.5L243.3 215L243.3 232zM234.7 226.4L248.2 217.9L248.2 234.9zM239.7 229.2L253.2 220.7L253.2 237.7zM244.6 232.1L258.1 223.6L258.1 240.6zM249.5 234.9L263 226.4L263 243.4zM254.4 237.8L267.9 229.3L267.9 246.3zM259.3 240.7L272.8 232.2L272.8 249.2zM264.2 243.7L277.7 235.2L277.7 252.2zM269.1 246.8L282.6 238.3L282.6 255.3zM274.1 249.7L287.6 241.2L287.6 258.2zM279 252.5L292.5 244L292.5 261zM283.9 255.3L297.4 246.8L297.4 263.8zM288.8 258.1L302.3 249.6L302.3 266.6zM293.7 260.9L307.2 252.4L307.2 269.4zM298.6 263.6L312.1 255.1L312.1 272.1zM303.6 266.2L317.1 257.7L317.1 274.7zM308.5 268.8L322 260.3L322 277.3zM313.4 271.5L326.9 263L326.9 280zM318.3 274.2L331.8 265.7L331.8 282.7zM323.2 277.1L336.7 268.6L336.7 285.6zM328.1 280.2L341.6 271.7L341.6 288.7zM333.1 283.5L346.6 275L346.6 292zM338 287.1L351.5 278.6L351.5 295.6zM342.9 291L356.4 282.5L356.4 299.5zM347.8 295.2L361.3 286.7L361.3 303.7zM352.7 299.6L366.2 291.1L366.2 308.1zM357.6 304.3L371.1 295.8L371.1 312.8zM362.6 309.5L376.1 301L376.1 318zM367.5 315.9L381 307.4L381 324.4zM372.4 324.8L385.9 316.3L385.9 333.3zM377.3 341.7L390.8 333.2L390.8 350.2zM382.9 378.5L396.4 370L396.4 387zM387.8 371.6L401.3 363.1L401.3 380.1zM392.7 339.7L406.2 331.2L406.2 348.2zM398.1 323L411.6 314.5L411.6 331.5zM403 311.9L416.5 303.4L416.5 320.4zM408 303.8L421.5 295.3L421.5 312.3zM412.9 297.2L426.4 288.7L426.4 305.7zM417.9 291.5L431.4 283L431.4 300zM422.8 286.4L436.3 277.9L436.3 294.9zM427.8 281.6L441.3 273.1L441.3 290.1zM432.7 277.1L446.2 268.6L446.2 285.6zM437.7 272.8L451.2 264.3L451.2 281.3zM442.6 268.5L456.1 260L456.1 277zM447.6 264.5L461.1 256L461.1 273zM452.5 260.6L466 252.1L466 269.1zM457.4 256.9L470.9 248.4L470.9 265.4zM462.4 253.2L475.9 244.7L475.9 261.7zM467.3 249.6L480.8 241.1L480.8 258.1zM472.3 245.9L485.8 237.4L485.8 254.4zM477.2 242.3L490.7 233.8L490.7 250.8zM482.2 238.7L495.7 230.2L495.7 247.2zM487.1 235.1L500.6 226.6L500.6 243.6zM492.1 231.6L505.6 223.1L505.6 240.1zM497 228.1L510.5 219.6L510.5 236.6zM502 224.6L515.5 216.1L515.5 233.1zM506.9 221.2L520.4 212.7L520.4 229.7zM511.9 217.7L525.4 209.2L525.4 226.2zM516.8 214.3L530.3 205.8L530.3 222.8zM521.7 210.8L535.2 202.3L535.2 219.3zM526.7 207.6L540.2 199.1L540.2 216.1zM531.6 204.6L545.1 196.1L545.1 213.1zM536.6 201.6L550.1 193.1L550.1 210.1zM541.5 198.3L555 189.8L555 206.8zM546.5 194.6L560 186.1L560 203.1zM551.4 190.1L564.9 181.6L564.9 198.6zM556.4 183.6L569.9 175.1L569.9 192.1zM561.3 175.4L574.8 166.9L574.8 183.9zM566.3 167.4L579.8 158.9L579.8 175.9zM571.2 160.1L584.7 151.6L584.7 168.6zM576.1 153L589.6 144.5L589.6 161.5zM581.1 146.5L594.6 138L594.6 155zM586 141L599.5 132.5L599.5 149.5zM591 136.2L604.5 127.7L604.5 144.7zM595.9 132L609.4 123.5L609.4 140.5zM600.9 128.1L614.4 119.6L614.4 136.6zM605.8 124.5L619.3 116L619.3 133zM610.8 121L624.3 112.5L624.3 129.5zM615.7 117.6L629.2 109.1L629.2 126.1zM620.7 114.2L634.2 105.7L634.2 122.7zM625.6 110.9L639.1 102.4L639.1 119.4z" fill="#000080"/>
<rect x="91.5" y="8.4" width="591.9" height="436.8" fill="none" stroke="#000" stroke-width="3.2"/>
<path d="M91.5 8.4h-9M91.5 25.2h-4.5M91.5 42h-9M91.5 58.8h-4.5M91.5 75.6h-9M91.5 92.4h-4.5M91.5 109.2h-9M91.5 126h-4.5M91.5 142.8h-9M91.5 159.6h-4.5M91.5 176.4h-9M91.5 193.2h-4.5M91.5 210h-9M91.5 226.8h-4.5M91.5 243.6h-9M91.5 260.4h-4.5M91.5 277.2h-9M91.5 294h-4.5M91.5 310.8h-9M91.5 327.6h-4.5M91.5 344.4h-9M91.5 361.2h-4.5M91.5 378h-9M91.5 394.8h-4.5M91.5 411.6h-9M91.5 428.4h-4.5M91.5 445.2h-9M91 445.2v4.5M140.4 445.2v9M189.7 445.2v4.5M239.1 445.2v9M288.5 445.2v4.5M337.8 445.2v9M387.2 445.2v4.5M436.6 445.2v9M485.9 445.2v4.5M535.3 445.2v9M584.6 445.2v4.5M634 445.2v9M683.4 445.2v4.5" stroke="#000" stroke-width="3.4" stroke-linecap="round" fill="none"/>
<g font-size="21.6" text-anchor="end">
<text x="77.4" y="15.1">-1.0</text>
<text x="77.4" y="48.7">-1.5</text>
<text x="77.4" y="82.3">-2.0</text>
<text x="77.4" y="115.9">-2.5</text>
<text x="77.4" y="149.5">-3.0</text>
<text x="77.4" y="183.1">-3.5</text>
<text x="77.4" y="216.7">-4.0</text>
<text x="77.4" y="250.3">-4.5</text>
<text x="77.4" y="283.9">-5.0</text>
<text x="77.4" y="317.5">-5.5</text>
<text x="77.4" y="351.1">-6.0</text>
<text x="77.4" y="384.7">-6.5</text>
<text x="77.4" y="418.3">-7.0</text>
<text x="77.4" y="451.9">-7.5</text>
</g>
<g font-size="21.6" text-anchor="middle">
<text x="140.4" y="475.8">-700</text>
<text x="239.1" y="475.8">-600</text>
<text x="337.8" y="475.8">-500</text>
<text x="436.6" y="475.8">-400</text>
<text x="535.3" y="475.8">-300</text>
<text x="634" y="475.8">-200</text>
</g>
<text x="393" y="515" font-size="26.4" text-anchor="middle"><tspan font-style="italic">E</tspan>/ mV vs. (Ag/AgCl)</text>
<text transform="translate(26 293.7) rotate(-90)" font-size="26" word-spacing="2.2">log <tspan font-style="italic">j</tspan><tspan dx="-3.8"> /</tspan><tspan dx="5.3"> A. cm</tspan><tspan font-size="16" dy="-14">-2</tspan></text>
<path d="M111.4 363.5H153.2" stroke="#000000" stroke-width="3" stroke-linecap="round"/>
<path d="M126.1 357.2h12.6v12.6h-12.6z" fill="#000000"/>
<text x="159" y="370.3" font-size="18.7">Blank Carbon Steel</text>
<path d="M111.4 391H153.2" stroke="#ff0000" stroke-width="3" stroke-linecap="round"/>
<path d="M125.4 391a7 7 0 1 0 14 0a7 7 0 1 0 -14 0z" fill="#ff0000"/>
<text x="159" y="397.8" font-size="18.7">2×10<tspan font-size="12.5" dy="-10.6">-5</tspan><tspan dy="10.6"> M</tspan></text>
<path d="M111.4 417.6H153.2" stroke="#008000" stroke-width="3" stroke-linecap="round"/>
<path d="M132.4 409.2L140.8 423.1L124 423.1z" fill="#008000"/>
<text x="159" y="424.4" font-size="18.7">5×10<tspan font-size="12.5" dy="-10.6">-5</tspan><tspan dy="10.6"> M</tspan></text>
<path d="M546.6 366.4H588.5" stroke="#0000ff" stroke-width="3" stroke-linecap="round"/>
<path d="M567.4 376L575.8 362L559 362z" fill="#0000ff"/>
<text x="594" y="373.2" font-size="18.7">1×10<tspan font-size="12.5" dy="-10.6">-4</tspan><tspan dy="10.6"> M</tspan></text>
<path d="M546.6 393.5H588.5" stroke="#00ffff" stroke-width="3" stroke-linecap="round"/>
<path d="M567.4 384.7L575.8 393.5L567.4 402.3L559 393.5z" fill="#00ffff"/>
<text x="594" y="400.3" font-size="18.7">5×10<tspan font-size="12.5" dy="-10.6">-4</tspan><tspan dy="10.6"> M</tspan></text>
<path d="M546.6 421.5H588.5" stroke="#000080" stroke-width="3" stroke-linecap="round"/>
<path d="M558.9 421.5L572.4 413L572.4 430z" fill="#000080"/>
<text x="594" y="428.3" font-size="18.7">1×10<tspan font-size="12.5" dy="-10.6">-3</tspan><tspan dy="10.6"> M</tspan></text>
<text x="420.3" y="78.5" font-size="35.5" text-anchor="middle">A</text>
</g>
<g>
<path d="M126.2 606.2L131.1 608.2L136.1 610.2L141 612.2L145.9 614.2L150.8 616.2L155.8 618.2L160.7 620.2L165.6 622.2L170.5 624.2L175.5 626.2L180.4 628.2L185.3 630.1L190.2 632.1L195.2 634.2L200.1 636.2L205 638.3L209.9 640.4L214.9 642.6L219.8 644.8L224.7 647L229.6 649.2L234.6 651.6L239.5 654L244.4 656.6L249.3 659.4L254.2 662.2L259.2 664.9L264.1 667.7L269 670.4L274 673.3L278.9 676.4L283.8 679.6L288.7 682.9L293.7 686.3L298.6 689.6L303.5 692.9L308.4 696.3L313.4 699.8L318.3 703.5L323.2 707.3L328.1 711.3L333.1 715.4L338 719.7L342.9 724.2L347.8 728.9L352.8 733.8L357.7 739.1L362.6 745L367.5 751.9L372.5 761.1L377.4 772.8L382.3 792L386.3 858L390 824L393.6 800L398.5 778.6L403.4 761.9L408.3 753.2L413.2 746.4L418.1 740.5L423 735.2L427.9 730.2L432.8 725.4L437.7 721.1L442.6 716.8L447.5 712.7L452.5 709L457.4 705.7L462.3 701.9L467.2 698.1L472.1 694.4L477 690.9L481.9 687.5L486.8 684.2L491.7 680.8L496.6 677.6L501.5 674.6L506.4 671.9L511.3 669.2L516.2 666.6L521.1 664L526 661.5L530.9 659.1L535.8 656.7L540.7 654.3L545.6 651.8L550.5 649.3L555.4 646.8L560.3 644.3L565.3 641.9L570.2 639.5L575.1 637L580 634.2L584.9 631.3L589.8 628.2L594.7 625.1L599.6 621.8L604.5 618.4L609.4 614.8L614.3 611.1L619.2 607.2" fill="none" stroke="#000000" stroke-width="3" stroke-linejoin="round"/>
<path d="M119.9 599.9h12.6v12.6h-12.6zM124.8 601.9h12.6v12.6h-12.6zM129.8 603.9h12.6v12.6h-12.6zM134.7 605.9h12.6v12.6h-12.6zM139.6 607.9h12.6v12.6h-12.6zM144.5 609.9h12.6v12.6h-12.6zM149.4 611.9h12.6v12.6h-12.6zM154.4 613.9h12.6v12.6h-12.6zM159.3 615.9h12.6v12.6h-12.6zM164.2 617.9h12.6v12.6h-12.6zM169.2 619.9h12.6v12.6h-12.6zM174.1 621.9h12.6v12.6h-12.6zM179 623.8h12.6v12.6h-12.6zM183.9 625.8h12.6v12.6h-12.6zM188.9 627.9h12.6v12.6h-12.6zM193.8 629.9h12.6v12.6h-12.6zM198.7 632h12.6v12.6h-12.6zM203.6 634.1h12.6v12.6h-12.6zM208.6 636.3h12.6v12.6h-12.6zM213.5 638.5h12.6v12.6h-12.6zM218.4 640.7h12.6v12.6h-12.6zM223.3 642.9h12.6v12.6h-12.6zM228.2 645.3h12.6v12.6h-12.6zM233.2 647.7h12.6v12.6h-12.6zM238.1 650.3h12.6v12.6h-12.6zM243 653.1h12.6v12.6h-12.6zM247.9 655.9h12.6v12.6h-12.6zM252.9 658.6h12.6v12.6h-12.6zM257.8 661.4h12.6v12.6h-12.6zM262.7 664.1h12.6v12.6h-12.6zM267.7 667h12.6v12.6h-12.6zM272.6 670.1h12.6v12.6h-12.6zM277.5 673.3h12.6v12.6h-12.6zM282.4 676.6h12.6v12.6h-12.6zM287.4 680h12.6v12.6h-12.6zM292.3 683.3h12.6v12.6h-12.6zM297.2 686.6h12.6v12.6h-12.6zM302.1 690h12.6v12.6h-12.6zM307.1 693.5h12.6v12.6h-12.6zM312 697.2h12.6v12.6h-12.6zM316.9 701h12.6v12.6h-12.6zM321.8 705h12.6v12.6h-12.6zM326.8 709.1h12.6v12.6h-12.6zM331.7 713.4h12.6v12.6h-12.6zM336.6 717.9h12.6v12.6h-12.6zM341.5 722.6h12.6v12.6h-12.6zM346.5 727.5h12.6v12.6h-12.6zM351.4 732.8h12.6v12.6h-12.6zM356.3 738.7h12.6v12.6h-12.6zM361.2 745.6h12.6v12.6h-12.6zM366.2 754.8h12.6v12.6h-12.6zM371.1 766.5h12.6v12.6h-12.6zM376 785.7h12.6v12.6h-12.6zM380 851.7h12.6v12.6h-12.6zM383.7 817.7h12.6v12.6h-12.6zM387.3 793.7h12.6v12.6h-12.6zM392.2 772.3h12.6v12.6h-12.6zM397.1 755.6h12.6v12.6h-12.6zM402 746.9h12.6v12.6h-12.6zM406.9 740.1h12.6v12.6h-12.6zM411.8 734.2h12.6v12.6h-12.6zM416.7 728.9h12.6v12.6h-12.6zM421.6 723.9h12.6v12.6h-12.6zM426.5 719.1h12.6v12.6h-12.6zM431.4 714.8h12.6v12.6h-12.6zM436.3 710.5h12.6v12.6h-12.6zM441.2 706.4h12.6v12.6h-12.6zM446.2 702.7h12.6v12.6h-12.6zM451.1 699.4h12.6v12.6h-12.6zM456 695.6h12.6v12.6h-12.6zM460.9 691.8h12.6v12.6h-12.6zM465.8 688.1h12.6v12.6h-12.6zM470.7 684.6h12.6v12.6h-12.6zM475.6 681.2h12.6v12.6h-12.6zM480.5 677.9h12.6v12.6h-12.6zM485.4 674.5h12.6v12.6h-12.6zM490.3 671.3h12.6v12.6h-12.6zM495.2 668.3h12.6v12.6h-12.6zM500.1 665.6h12.6v12.6h-12.6zM505 662.9h12.6v12.6h-12.6zM509.9 660.3h12.6v12.6h-12.6zM514.8 657.7h12.6v12.6h-12.6zM519.7 655.2h12.6v12.6h-12.6zM524.6 652.8h12.6v12.6h-12.6zM529.5 650.4h12.6v12.6h-12.6zM534.4 648h12.6v12.6h-12.6zM539.3 645.5h12.6v12.6h-12.6zM544.2 643h12.6v12.6h-12.6zM549.1 640.5h12.6v12.6h-12.6zM554 638h12.6v12.6h-12.6zM559 635.6h12.6v12.6h-12.6zM563.9 633.2h12.6v12.6h-12.6zM568.8 630.7h12.6v12.6h-12.6zM573.7 627.9h12.6v12.6h-12.6zM578.6 625h12.6v12.6h-12.6zM583.5 621.9h12.6v12.6h-12.6zM588.4 618.8h12.6v12.6h-12.6zM593.3 615.5h12.6v12.6h-12.6zM598.2 612.1h12.6v12.6h-12.6zM603.1 608.5h12.6v12.6h-12.6zM608 604.8h12.6v12.6h-12.6zM612.9 600.9h12.6v12.6h-12.6z" fill="#000000"/>
<path d="M147.9 629.7L152.8 631.9L157.8 634L162.7 636.2L167.7 638.3L172.6 640.5L177.5 642.6L182.5 644.8L187.4 646.9L192.4 649L197.3 651.1L202.2 653.3L207.2 655.3L212.1 657.4L217.1 659.4L222 661.4L226.9 663.4L231.9 665.5L236.8 667.7L241.8 669.9L246.7 672.2L251.6 674.6L256.6 677L261.5 679.4L266.5 682L271.4 684.6L276.3 687.3L281.3 690.1L286.2 693.1L291.2 696.1L296.1 699.4L301 702.7L306 706.3L310.9 709.9L315.9 713.8L320.8 717.7L325.7 721.8L330.7 726L335.6 730.2L340.6 734.6L345.5 739L350.4 743.5L355.4 748.2L360.3 753.1L365.3 758.3L370.2 763.9L375.1 769.8L380.1 776.1L385 783.3L390 792.7L394.9 807L399.8 853L404.8 829L409.7 802.8L414.6 788.2L419.5 778.1L424.4 770.1L429.4 763.8L434.3 758.2L439.2 752.9L444.1 747.5L449 742.1L453.9 737L458.8 732.3L463.7 727.9L468.7 723.7L473.6 719.7L478.5 715.6L483.4 711.6L488.3 707.7L493.2 704.1L498.1 700.8L503 697.7L508 694.7L512.9 691.7L517.8 688.8L522.7 685.8L527.6 683L532.5 680.2L537.4 677.5L542.3 674.9L547.3 672.4L552.2 670L557.1 667.7L562 665.3L566.9 662.8L571.8 660.4L576.7 657.9L581.6 655.3L586.6 652.6L591.5 649.8L596.4 646.8L601.3 643.6L606.2 640.2L611.1 636.5L616 632.7L620.9 628.6L625.9 624.3L630.8 619.8L635.7 615.2L640.6 610.4" fill="none" stroke="#ff0000" stroke-width="3" stroke-linejoin="round"/>
<path d="M140.9 629.7a7 7 0 1 0 14 0a7 7 0 1 0 -14 0zM145.8 631.9a7 7 0 1 0 14 0a7 7 0 1 0 -14 0zM150.8 634a7 7 0 1 0 14 0a7 7 0 1 0 -14 0zM155.7 636.2a7 7 0 1 0 14 0a7 7 0 1 0 -14 0zM160.7 638.3a7 7 0 1 0 14 0a7 7 0 1 0 -14 0zM165.6 640.5a7 7 0 1 0 14 0a7 7 0 1 0 -14 0zM170.5 642.6a7 7 0 1 0 14 0a7 7 0 1 0 -14 0zM175.5 644.8a7 7 0 1 0 14 0a7 7 0 1 0 -14 0zM180.4 646.9a7 7 0 1 0 14 0a7 7 0 1 0 -14 0zM185.4 649a7 7 0 1 0 14 0a7 7 0 1 0 -14 0zM190.3 651.1a7 7 0 1 0 14 0a7 7 0 1 0 -14 0zM195.2 653.3a7 7 0 1 0 14 0a7 7 0 1 0 -14 0zM200.2 655.3a7 7 0 1 0 14 0a7 7 0 1 0 -14 0zM205.1 657.4a7 7 0 1 0 14 0a7 7 0 1 0 -14 0zM210.1 659.4a7 7 0 1 0 14 0a7 7 0 1 0 -14 0zM215 661.4a7 7 0 1 0 14 0a7 7 0 1 0 -14 0zM219.9 663.4a7 7 0 1 0 14 0a7 7 0 1 0 -14 0zM224.9 665.5a7 7 0 1 0 14 0a7 7 0 1 0 -14 0zM229.8 667.7a7 7 0 1 0 14 0a7 7 0 1 0 -14 0zM234.8 669.9a7 7 0 1 0 14 0a7 7 0 1 0 -14 0zM239.7 672.2a7 7 0 1 0 14 0a7 7 0 1 0 -14 0zM244.6 674.6a7 7 0 1 0 14 0a7 7 0 1 0 -14 0zM249.6 677a7 7 0 1 0 14 0a7 7 0 1 0 -14 0zM254.5 679.4a7 7 0 1 0 14 0a7 7 0 1 0 -14 0zM259.5 682a7 7 0 1 0 14 0a7 7 0 1 0 -14 0zM264.4 684.6a7 7 0 1 0 14 0a7 7 0 1 0 -14 0zM269.3 687.3a7 7 0 1 0 14 0a7 7 0 1 0 -14 0zM274.3 690.1a7 7 0 1 0 14 0a7 7 0 1 0 -14 0zM279.2 693.1a7 7 0 1 0 14 0a7 7 0 1 0 -14 0zM284.2 696.1a7 7 0 1 0 14 0a7 7 0 1 0 -14 0zM289.1 699.4a7 7 0 1 0 14 0a7 7 0 1 0 -14 0zM294 702.7a7 7 0 1 0 14 0a7 7 0 1 0 -14 0zM299 706.3a7 7 0 1 0 14 0a7 7 0 1 0 -14 0zM303.9 709.9a7 7 0 1 0 14 0a7 7 0 1 0 -14 0zM308.9 713.8a7 7 0 1 0 14 0a7 7 0 1 0 -14 0zM313.8 717.7a7 7 0 1 0 14 0a7 7 0 1 0 -14 0zM318.7 721.8a7 7 0 1 0 14 0a7 7 0 1 0 -14 0zM323.7 726a7 7 0 1 0 14 0a7 7 0 1 0 -14 0zM328.6 730.2a7 7 0 1 0 14 0a7 7 0 1 0 -14 0zM333.6 734.6a7 7 0 1 0 14 0a7 7 0 1 0 -14 0zM338.5 739a7 7 0 1 0 14 0a7 7 0 1 0 -14 0zM343.4 743.5a7 7 0 1 0 14 0a7 7 0 1 0 -14 0zM348.4 748.2a7 7 0 1 0 14 0a7 7 0 1 0 -14 0zM353.3 753.1a7 7 0 1 0 14 0a7 7 0 1 0 -14 0zM358.3 758.3a7 7 0 1 0 14 0a7 7 0 1 0 -14 0zM363.2 763.9a7 7 0 1 0 14 0a7 7 0 1 0 -14 0zM368.1 769.8a7 7 0 1 0 14 0a7 7 0 1 0 -14 0zM373.1 776.1a7 7 0 1 0 14 0a7 7 0 1 0 -14 0zM378 783.3a7 7 0 1 0 14 0a7 7 0 1 0 -14 0zM383 792.7a7 7 0 1 0 14 0a7 7 0 1 0 -14 0zM387.9 807a7 7 0 1 0 14 0a7 7 0 1 0 -14 0zM392.8 853a7 7 0 1 0 14 0a7 7 0 1 0 -14 0zM397.8 829a7 7 0 1 0 14 0a7 7 0 1 0 -14 0zM402.7 802.8a7 7 0 1 0 14 0a7 7 0 1 0 -14 0zM407.6 788.2a7 7 0 1 0 14 0a7 7 0 1 0 -14 0zM412.5 778.1a7 7 0 1 0 14 0a7 7 0 1 0 -14 0zM417.4 770.1a7 7 0 1 0 14 0a7 7 0 1 0 -14 0zM422.4 763.8a7 7 0 1 0 14 0a7 7 0 1 0 -14 0zM427.3 758.2a7 7 0 1 0 14 0a7 7 0 1 0 -14 0zM432.2 752.9a7 7 0 1 0 14 0a7 7 0 1 0 -14 0zM437.1 747.5a7 7 0 1 0 14 0a7 7 0 1 0 -14 0zM442 742.1a7 7 0 1 0 14 0a7 7 0 1 0 -14 0zM446.9 737a7 7 0 1 0 14 0a7 7 0 1 0 -14 0zM451.8 732.3a7 7 0 1 0 14 0a7 7 0 1 0 -14 0zM456.7 727.9a7 7 0 1 0 14 0a7 7 0 1 0 -14 0zM461.7 723.7a7 7 0 1 0 14 0a7 7 0 1 0 -14 0zM466.6 719.7a7 7 0 1 0 14 0a7 7 0 1 0 -14 0zM471.5 715.6a7 7 0 1 0 14 0a7 7 0 1 0 -14 0zM476.4 711.6a7 7 0 1 0 14 0a7 7 0 1 0 -14 0zM481.3 707.7a7 7 0 1 0 14 0a7 7 0 1 0 -14 0zM486.2 704.1a7 7 0 1 0 14 0a7 7 0 1 0 -14 0zM491.1 700.8a7 7 0 1 0 14 0a7 7 0 1 0 -14 0zM496 697.7a7 7 0 1 0 14 0a7 7 0 1 0 -14 0zM501 694.7a7 7 0 1 0 14 0a7 7 0 1 0 -14 0zM505.9 691.7a7 7 0 1 0 14 0a7 7 0 1 0 -14 0zM510.8 688.8a7 7 0 1 0 14 0a7 7 0 1 0 -14 0zM515.7 685.8a7 7 0 1 0 14 0a7 7 0 1 0 -14 0zM520.6 683a7 7 0 1 0 14 0a7 7 0 1 0 -14 0zM525.5 680.2a7 7 0 1 0 14 0a7 7 0 1 0 -14 0zM530.4 677.5a7 7 0 1 0 14 0a7 7 0 1 0 -14 0zM535.3 674.9a7 7 0 1 0 14 0a7 7 0 1 0 -14 0zM540.3 672.4a7 7 0 1 0 14 0a7 7 0 1 0 -14 0zM545.2 670a7 7 0 1 0 14 0a7 7 0 1 0 -14 0zM550.1 667.7a7 7 0 1 0 14 0a7 7 0 1 0 -14 0zM555 665.3a7 7 0 1 0 14 0a7 7 0 1 0 -14 0zM559.9 662.8a7 7 0 1 0 14 0a7 7 0 1 0 -14 0zM564.8 660.4a7 7 0 1 0 14 0a7 7 0 1 0 -14 0zM569.7 657.9a7 7 0 1 0 14 0a7 7 0 1 0 -14 0zM574.6 655.3a7 7 0 1 0 14 0a7 7 0 1 0 -14 0zM579.6 652.6a7 7 0 1 0 14 0a7 7 0 1 0 -14 0zM584.5 649.8a7 7 0 1 0 14 0a7 7 0 1 0 -14 0zM589.4 646.8a7 7 0 1 0 14 0a7 7 0 1 0 -14 0zM594.3 643.6a7 7 0 1 0 14 0a7 7 0 1 0 -14 0zM599.2 640.2a7 7 0 1 0 14 0a7 7 0 1 0 -14 0zM604.1 636.5a7 7 0 1 0 14 0a7 7 0 1 0 -14 0zM609 632.7a7 7 0 1 0 14 0a7 7 0 1 0 -14 0zM613.9 628.6a7 7 0 1 0 14 0a7 7 0 1 0 -14 0zM618.9 624.3a7 7 0 1 0 14 0a7 7 0 1 0 -14 0zM623.8 619.8a7 7 0 1 0 14 0a7 7 0 1 0 -14 0zM628.7 615.2a7 7 0 1 0 14 0a7 7 0 1 0 -14 0zM633.6 610.4a7 7 0 1 0 14 0a7 7 0 1 0 -14 0z" fill="#ff0000"/>
<path d="M151.7 655L156.6 657.4L161.6 659.8L166.5 662.3L171.5 664.7L176.4 667.2L181.3 669.8L186.3 672.3L191.2 674.9L196.2 677.5L201.1 680.1L206 682.7L211 685.4L215.9 688.1L220.9 690.9L225.8 693.6L230.7 696.4L235.7 699.2L240.6 702L245.6 704.8L250.5 707.6L255.4 710.4L260.4 713.3L265.3 716.1L270.3 719L275.2 721.9L280.1 724.8L285.1 727.9L290 731L295 734.3L299.9 737.7L304.8 741.2L309.8 744.7L314.7 748.3L319.7 751.8L324.6 755.2L329.5 758.6L334.5 762.1L339.4 765.6L344.4 769.2L349.3 772.9L354.2 777L359.2 781.2L364.1 785.7L369.1 790.3L374 795.1L378.9 800.7L383.9 807.6L388.8 816.2L393.8 825.9L398.7 837.8L403.6 875.5L408.6 845L413.5 820L418.4 811.2L423.3 803.9L428.2 797.3L433.1 791.2L438 785.4L442.9 779.6L447.8 773.9L452.7 768.4L457.6 763.2L462.5 758.3L467.4 753.9L472.3 749.8L477.2 746.1L482.1 742.4L487 738.8L491.9 735.1L496.8 731.4L501.7 727.7L506.6 724L511.5 720.4L516.4 716.8L521.3 713.3L526.2 709.7L531 706.3L535.9 702.8L540.8 699.4L545.7 696L550.6 692.8L555.5 689.7L560.4 686.8L565.3 684.1L570.2 681.6L575.1 679.2L580 676.7L584.9 674.2L589.8 671.4L594.7 668.5L599.6 665.3L604.5 661.7L609.4 657.8L614.3 653.6L619.2 649.1L624.1 644.4L629 639.4L633.9 634.2L638.8 628.9L643.7 623.3" fill="none" stroke="#008000" stroke-width="3" stroke-linejoin="round"/>
<path d="M151.7 646.6L160.1 660.5L143.3 660.5zM156.6 649L165 662.9L148.2 662.9zM161.6 651.4L170 665.3L153.2 665.3zM166.5 653.9L174.9 667.8L158.1 667.8zM171.5 656.3L179.9 670.2L163.1 670.2zM176.4 658.8L184.8 672.7L168 672.7zM181.3 661.4L189.7 675.3L172.9 675.3zM186.3 663.9L194.7 677.8L177.9 677.8zM191.2 666.5L199.6 680.4L182.8 680.4zM196.2 669.1L204.6 683L187.8 683zM201.1 671.7L209.5 685.6L192.7 685.6zM206 674.3L214.4 688.2L197.6 688.2zM211 677L219.4 690.9L202.6 690.9zM215.9 679.7L224.3 693.6L207.5 693.6zM220.9 682.5L229.3 696.4L212.5 696.4zM225.8 685.2L234.2 699.1L217.4 699.1zM230.7 688L239.1 701.9L222.3 701.9zM235.7 690.8L244.1 704.7L227.3 704.7zM240.6 693.6L249 707.5L232.2 707.5zM245.6 696.4L254 710.3L237.2 710.3zM250.5 699.2L258.9 713.1L242.1 713.1zM255.4 702L263.8 715.9L247 715.9zM260.4 704.9L268.8 718.8L252 718.8zM265.3 707.7L273.7 721.6L256.9 721.6zM270.3 710.6L278.7 724.5L261.9 724.5zM275.2 713.5L283.6 727.4L266.8 727.4zM280.1 716.4L288.5 730.3L271.7 730.3zM285.1 719.5L293.5 733.4L276.7 733.4zM290 722.6L298.4 736.5L281.6 736.5zM295 725.9L303.4 739.8L286.6 739.8zM299.9 729.3L308.3 743.2L291.5 743.2zM304.8 732.8L313.2 746.7L296.4 746.7zM309.8 736.3L318.2 750.2L301.4 750.2zM314.7 739.9L323.1 753.8L306.3 753.8zM319.7 743.4L328.1 757.3L311.3 757.3zM324.6 746.8L333 760.7L316.2 760.7zM329.5 750.2L337.9 764.1L321.1 764.1zM334.5 753.7L342.9 767.6L326.1 767.6zM339.4 757.2L347.8 771.1L331 771.1zM344.4 760.8L352.8 774.7L336 774.7zM349.3 764.5L357.7 778.4L340.9 778.4zM354.2 768.6L362.6 782.5L345.8 782.5zM359.2 772.8L367.6 786.7L350.8 786.7zM364.1 777.3L372.5 791.2L355.7 791.2zM369.1 781.9L377.5 795.8L360.7 795.8zM374 786.7L382.4 800.6L365.6 800.6zM378.9 792.3L387.3 806.2L370.5 806.2zM383.9 799.2L392.3 813.1L375.5 813.1zM388.8 807.8L397.2 821.7L380.4 821.7zM393.8 817.5L402.2 831.4L385.4 831.4zM398.7 829.4L407.1 843.3L390.3 843.3zM403.6 867.1L412 881L395.2 881zM408.6 836.6L417 850.5L400.2 850.5zM413.5 811.6L421.9 825.5L405.1 825.5zM418.4 802.8L426.8 816.7L410 816.7zM423.3 795.5L431.7 809.4L414.9 809.4zM428.2 788.9L436.6 802.8L419.8 802.8zM433.1 782.8L441.5 796.7L424.7 796.7zM438 777L446.4 790.9L429.6 790.9zM442.9 771.2L451.3 785.1L434.5 785.1zM447.8 765.5L456.2 779.4L439.4 779.4zM452.7 760L461.1 773.9L444.3 773.9zM457.6 754.8L466 768.7L449.2 768.7zM462.5 749.9L470.9 763.8L454.1 763.8zM467.4 745.5L475.8 759.4L459 759.4zM472.3 741.4L480.7 755.3L463.9 755.3zM477.2 737.7L485.6 751.6L468.8 751.6zM482.1 734L490.5 747.9L473.7 747.9zM487 730.4L495.4 744.3L478.6 744.3zM491.9 726.7L500.3 740.6L483.5 740.6zM496.8 723L505.2 736.9L488.4 736.9zM501.7 719.3L510.1 733.2L493.3 733.2zM506.6 715.6L515 729.5L498.2 729.5zM511.5 712L519.9 725.9L503.1 725.9zM516.4 708.4L524.8 722.3L508 722.3zM521.3 704.9L529.7 718.8L512.9 718.8zM526.2 701.3L534.6 715.2L517.8 715.2zM531 697.9L539.4 711.8L522.6 711.8zM535.9 694.4L544.3 708.3L527.5 708.3zM540.8 691L549.2 704.9L532.4 704.9zM545.7 687.6L554.1 701.5L537.3 701.5zM550.6 684.4L559 698.3L542.2 698.3zM555.5 681.3L563.9 695.2L547.1 695.2zM560.4 678.4L568.8 692.3L552 692.3zM565.3 675.7L573.7 689.6L556.9 689.6zM570.2 673.2L578.6 687.1L561.8 687.1zM575.1 670.8L583.5 684.7L566.7 684.7zM580 668.3L588.4 682.2L571.6 682.2zM584.9 665.8L593.3 679.7L576.5 679.7zM589.8 663L598.2 676.9L581.4 676.9zM594.7 660.1L603.1 674L586.3 674zM599.6 656.9L608 670.8L591.2 670.8zM604.5 653.3L612.9 667.2L596.1 667.2zM609.4 649.4L617.8 663.3L601 663.3zM614.3 645.2L622.7 659.1L605.9 659.1zM619.2 640.7L627.6 654.6L610.8 654.6zM624.1 636L632.5 649.9L615.7 649.9zM629 631L637.4 644.9L620.6 644.9zM633.9 625.8L642.3 639.7L625.5 639.7zM638.8 620.5L647.2 634.4L630.4 634.4zM643.7 614.9L652.1 628.8L635.3 628.8z" fill="#008000"/>
<path d="M153.4 694.7L158.3 696.4L163.2 698.1L168.1 699.8L173 701.6L177.9 703.4L182.8 705.2L187.7 707.1L192.6 709L197.5 711L202.4 713L207.3 715L212.2 717.1L217 719.3L221.9 721.5L226.8 723.7L231.7 725.9L236.6 728.2L241.5 730.4L246.4 732.6L251.3 734.8L256.2 736.9L261.1 739L266 741.1L270.9 743.3L275.8 745.6L280.7 748L285.6 750.5L290.5 753.3L295.4 756.4L300.3 760L305.2 763.8L310.1 767.7L315 771.6L319.9 775.4L324.8 779L329.7 782.5L334.5 786.2L339.4 789.9L344.3 793.8L349.2 797.8L354.1 802.1L359 806.7L363.9 811.4L368.8 816.3L373.7 821.2L378.6 827.1L383.5 834.8L388.4 844.9L393.3 856.8L398.2 904.2L403.2 880L408.1 862L413.1 850L418 839.8L423 832.1L428 825.7L432.9 820.2L437.9 815.1L442.8 810.2L447.8 805.6L452.8 801.3L457.7 797.2L462.7 793.6L467.6 790.3L472.6 787.4L477.6 784.8L482.5 782.3L487.5 779.8L492.5 777.2L497.4 774.7L502.4 772.1L507.4 769.5L512.3 766.7L517.3 763.7L522.2 760.6L527.2 757.4L532.2 754L537.1 750.4L542.1 746.6L547 743L552 739.4L557 736L561.9 732.8L566.9 730L571.9 727.4L576.8 724.5L581.8 721.2L586.8 717.3L591.7 713L596.7 708.2L601.6 703.4L606.6 698.5L611.6 693.8L616.5 689.9L621.5 686.8L626.4 684.1L631.4 681.4L636.4 678.6L641.3 675.5L646.3 672.3" fill="none" stroke="#0000ff" stroke-width="3" stroke-linejoin="round"/>
<path d="M153.4 704.3L161.8 690.3L145 690.3zM158.3 706L166.7 692L149.9 692zM163.2 707.7L171.6 693.7L154.8 693.7zM168.1 709.4L176.5 695.4L159.7 695.4zM173 711.2L181.4 697.2L164.6 697.2zM177.9 713L186.3 699L169.5 699zM182.8 714.8L191.2 700.8L174.4 700.8zM187.7 716.7L196.1 702.7L179.3 702.7zM192.6 718.6L201 704.6L184.2 704.6zM197.5 720.6L205.9 706.6L189.1 706.6zM202.4 722.6L210.8 708.6L194 708.6zM207.3 724.6L215.7 710.6L198.9 710.6zM212.2 726.7L220.6 712.7L203.8 712.7zM217 728.9L225.4 714.9L208.6 714.9zM221.9 731.1L230.3 717.1L213.5 717.1zM226.8 733.3L235.2 719.3L218.4 719.3zM231.7 735.5L240.1 721.5L223.3 721.5zM236.6 737.8L245 723.8L228.2 723.8zM241.5 740L249.9 726L233.1 726zM246.4 742.2L254.8 728.2L238 728.2zM251.3 744.4L259.7 730.4L242.9 730.4zM256.2 746.5L264.6 732.5L247.8 732.5zM261.1 748.6L269.5 734.6L252.7 734.6zM266 750.7L274.4 736.7L257.6 736.7zM270.9 752.9L279.3 738.9L262.5 738.9zM275.8 755.2L284.2 741.2L267.4 741.2zM280.7 757.6L289.1 743.6L272.3 743.6zM285.6 760.1L294 746.1L277.2 746.1zM290.5 762.9L298.9 748.9L282.1 748.9zM295.4 766L303.8 752L287 752zM300.3 769.6L308.7 755.6L291.9 755.6zM305.2 773.4L313.6 759.4L296.8 759.4zM310.1 777.3L318.5 763.3L301.7 763.3zM315 781.2L323.4 767.2L306.6 767.2zM319.9 785L328.3 771L311.5 771zM324.8 788.6L333.2 774.6L316.4 774.6zM329.7 792.1L338.1 778.1L321.3 778.1zM334.5 795.8L342.9 781.8L326.1 781.8zM339.4 799.5L347.8 785.5L331 785.5zM344.3 803.4L352.7 789.4L335.9 789.4zM349.2 807.4L357.6 793.4L340.8 793.4zM354.1 811.7L362.5 797.7L345.7 797.7zM359 816.3L367.4 802.3L350.6 802.3zM363.9 821L372.3 807L355.5 807zM368.8 825.9L377.2 811.9L360.4 811.9zM373.7 830.8L382.1 816.8L365.3 816.8zM378.6 836.7L387 822.7L370.2 822.7zM383.5 844.4L391.9 830.4L375.1 830.4zM388.4 854.5L396.8 840.5L380 840.5zM393.3 866.4L401.7 852.4L384.9 852.4zM398.2 913.8L406.6 899.8L389.8 899.8zM403.2 889.6L411.6 875.6L394.8 875.6zM408.1 871.6L416.5 857.6L399.7 857.6zM413.1 859.6L421.5 845.6L404.7 845.6zM418 849.4L426.4 835.4L409.6 835.4zM423 841.7L431.4 827.7L414.6 827.7zM428 835.3L436.4 821.3L419.6 821.3zM432.9 829.8L441.3 815.8L424.5 815.8zM437.9 824.7L446.3 810.7L429.5 810.7zM442.8 819.8L451.2 805.8L434.4 805.8zM447.8 815.2L456.2 801.2L439.4 801.2zM452.8 810.9L461.2 796.9L444.4 796.9zM457.7 806.8L466.1 792.8L449.3 792.8zM462.7 803.2L471.1 789.2L454.3 789.2zM467.6 799.9L476 785.9L459.2 785.9zM472.6 797L481 783L464.2 783zM477.6 794.4L486 780.4L469.2 780.4zM482.5 791.9L490.9 777.9L474.1 777.9zM487.5 789.4L495.9 775.4L479.1 775.4zM492.5 786.8L500.9 772.8L484.1 772.8zM497.4 784.3L505.8 770.3L489 770.3zM502.4 781.7L510.8 767.7L494 767.7zM507.4 779.1L515.8 765.1L499 765.1zM512.3 776.3L520.7 762.3L503.9 762.3zM517.3 773.3L525.7 759.3L508.9 759.3zM522.2 770.2L530.6 756.2L513.8 756.2zM527.2 767L535.6 753L518.8 753zM532.2 763.6L540.6 749.6L523.8 749.6zM537.1 760L545.5 746L528.7 746zM542.1 756.2L550.5 742.2L533.7 742.2zM547 752.6L555.4 738.6L538.6 738.6zM552 749L560.4 735L543.6 735zM557 745.6L565.4 731.6L548.6 731.6zM561.9 742.4L570.3 728.4L553.5 728.4zM566.9 739.6L575.3 725.6L558.5 725.6zM571.9 737L580.3 723L563.5 723zM576.8 734.1L585.2 720.1L568.4 720.1zM581.8 730.8L590.2 716.8L573.4 716.8zM586.8 726.9L595.1 712.9L578.4 712.9zM591.7 722.6L600.1 708.6L583.3 708.6zM596.7 717.8L605.1 703.8L588.3 703.8zM601.6 713L610 699L593.2 699zM606.6 708.1L615 694.1L598.2 694.1zM611.6 703.4L620 689.4L603.2 689.4zM616.5 699.5L624.9 685.5L608.1 685.5zM621.5 696.4L629.9 682.4L613.1 682.4zM626.4 693.7L634.8 679.7L618 679.7zM631.4 691L639.8 677L623 677zM636.4 688.2L644.8 674.2L628 674.2zM641.3 685.1L649.7 671.1L632.9 671.1zM646.3 681.9L654.7 667.9L637.9 667.9z" fill="#0000ff"/>
<path d="M126.5 710.9L131.5 712.2L136.4 713.6L141.4 715L146.4 716.5L151.3 718.2L156.3 719.8L161.3 721.6L166.2 723.4L171.2 725.3L176.2 727.2L181.1 729.1L186.1 731.2L191.1 733.2L196 735.3L201 737.4L206 739.7L210.9 742.1L215.9 744.7L220.9 747.3L225.8 750L230.8 752.8L235.8 755.5L240.7 758.3L245.7 761L250.7 763.6L255.6 766.2L260.6 768.8L265.5 771.3L270.5 774L275.5 776.7L280.4 779.6L285.4 782.6L290.4 785.7L295.3 789.1L300.3 792.7L305.3 796.4L310.2 800.3L315.2 804.3L320.2 808.5L325.1 812.9L330.1 817.4L335.1 822.1L340 827L345 832.3L350 837.8L354.9 843.7L359.9 849.9L364.9 856.4L369.8 863.5L374.8 871L381.4 919.6L386.5 895L392.3 879.4L397.3 865.4L402.2 856.2L407.2 848.6L412.1 842.2L417.1 836.5L422.1 831.1L427 825.9L432 820.9L436.9 816.1L441.9 811.6L446.8 807.4L451.8 803.4L456.8 799.7L461.7 796.3L466.7 793.2L471.6 790.4L476.6 787.9L481.6 785.6L486.5 783.2L491.5 780.7L496.4 778.2L501.4 775.7L506.4 773.1L511.3 770.6L516.3 768.2L521.2 765.7L526.2 763.3L531.1 761L536.1 758.7L541.1 756.5L546 754.4L551 752.2L555.9 750.1L560.9 748L565.9 745.9L570.8 743.7L575.8 741.5L580.7 739.2L585.7 736.8L590.6 734.3L595.6 731.8L600.6 729.2L605.5 726.6L610.5 723.9L615.4 721.1L620.4 718.3" fill="none" stroke="#00ffff" stroke-width="3" stroke-linejoin="round"/>
<path d="M126.5 702.1L134.9 710.9L126.5 719.7L118.1 710.9zM131.5 703.4L139.9 712.2L131.5 721L123.1 712.2zM136.4 704.8L144.8 713.6L136.4 722.4L128 713.6zM141.4 706.2L149.8 715L141.4 723.8L133 715zM146.4 707.7L154.8 716.5L146.4 725.3L138 716.5zM151.3 709.4L159.7 718.2L151.3 727L142.9 718.2zM156.3 711L164.7 719.8L156.3 728.6L147.9 719.8zM161.3 712.8L169.7 721.6L161.3 730.4L152.9 721.6zM166.2 714.6L174.6 723.4L166.2 732.2L157.8 723.4zM171.2 716.5L179.6 725.3L171.2 734.1L162.8 725.3zM176.2 718.4L184.6 727.2L176.2 736L167.8 727.2zM181.1 720.3L189.5 729.1L181.1 737.9L172.7 729.1zM186.1 722.4L194.5 731.2L186.1 740L177.7 731.2zM191.1 724.4L199.5 733.2L191.1 742L182.7 733.2zM196 726.5L204.4 735.3L196 744.1L187.6 735.3zM201 728.6L209.4 737.4L201 746.2L192.6 737.4zM206 730.9L214.4 739.7L206 748.5L197.6 739.7zM210.9 733.3L219.3 742.1L210.9 750.9L202.5 742.1zM215.9 735.9L224.3 744.7L215.9 753.5L207.5 744.7zM220.9 738.5L229.3 747.3L220.9 756.1L212.5 747.3zM225.8 741.2L234.2 750L225.8 758.8L217.4 750zM230.8 744L239.2 752.8L230.8 761.6L222.4 752.8zM235.8 746.7L244.2 755.5L235.8 764.3L227.4 755.5zM240.7 749.5L249.1 758.3L240.7 767.1L232.3 758.3zM245.7 752.2L254.1 761L245.7 769.8L237.3 761zM250.7 754.8L259.1 763.6L250.7 772.4L242.2 763.6zM255.6 757.4L264 766.2L255.6 775L247.2 766.2zM260.6 760L269 768.8L260.6 777.6L252.2 768.8zM265.5 762.5L273.9 771.3L265.5 780.1L257.1 771.3zM270.5 765.2L278.9 774L270.5 782.8L262.1 774zM275.5 767.9L283.9 776.7L275.5 785.5L267.1 776.7zM280.4 770.8L288.8 779.6L280.4 788.4L272 779.6zM285.4 773.8L293.8 782.6L285.4 791.4L277 782.6zM290.4 776.9L298.8 785.7L290.4 794.5L282 785.7zM295.3 780.3L303.7 789.1L295.3 797.9L286.9 789.1zM300.3 783.9L308.7 792.7L300.3 801.5L291.9 792.7zM305.3 787.6L313.7 796.4L305.3 805.2L296.9 796.4zM310.2 791.5L318.6 800.3L310.2 809.1L301.8 800.3zM315.2 795.5L323.6 804.3L315.2 813.1L306.8 804.3zM320.2 799.7L328.6 808.5L320.2 817.3L311.8 808.5zM325.1 804.1L333.5 812.9L325.1 821.7L316.7 812.9zM330.1 808.6L338.5 817.4L330.1 826.2L321.7 817.4zM335.1 813.3L343.5 822.1L335.1 830.9L326.7 822.1zM340 818.2L348.4 827L340 835.8L331.6 827zM345 823.5L353.4 832.3L345 841.1L336.6 832.3zM350 829L358.4 837.8L350 846.6L341.6 837.8zM354.9 834.9L363.3 843.7L354.9 852.5L346.5 843.7zM359.9 841.1L368.3 849.9L359.9 858.7L351.5 849.9zM364.9 847.6L373.3 856.4L364.9 865.2L356.5 856.4zM369.8 854.7L378.2 863.5L369.8 872.3L361.4 863.5zM374.8 862.2L383.2 871L374.8 879.8L366.4 871zM381.4 910.8L389.8 919.6L381.4 928.4L373 919.6zM386.5 886.2L394.9 895L386.5 903.8L378.1 895zM392.3 870.6L400.7 879.4L392.3 888.2L383.9 879.4zM397.3 856.6L405.7 865.4L397.3 874.2L388.9 865.4zM402.2 847.4L410.6 856.2L402.2 865L393.8 856.2zM407.2 839.8L415.6 848.6L407.2 857.4L398.8 848.6zM412.1 833.4L420.5 842.2L412.1 851L403.7 842.2zM417.1 827.7L425.5 836.5L417.1 845.3L408.7 836.5zM422.1 822.3L430.5 831.1L422.1 839.9L413.7 831.1zM427 817.1L435.4 825.9L427 834.7L418.6 825.9zM432 812.1L440.4 820.9L432 829.7L423.6 820.9zM436.9 807.3L445.3 816.1L436.9 824.9L428.5 816.1zM441.9 802.8L450.3 811.6L441.9 820.4L433.5 811.6zM446.8 798.6L455.2 807.4L446.8 816.2L438.4 807.4zM451.8 794.6L460.2 803.4L451.8 812.2L443.4 803.4zM456.8 790.9L465.2 799.7L456.8 808.5L448.4 799.7zM461.7 787.5L470.1 796.3L461.7 805.1L453.3 796.3zM466.7 784.4L475.1 793.2L466.7 802L458.3 793.2zM471.6 781.6L480 790.4L471.6 799.2L463.2 790.4zM476.6 779.1L485 787.9L476.6 796.7L468.2 787.9zM481.6 776.8L490 785.6L481.6 794.4L473.2 785.6zM486.5 774.4L494.9 783.2L486.5 792L478.1 783.2zM491.5 771.9L499.9 780.7L491.5 789.5L483.1 780.7zM496.4 769.4L504.8 778.2L496.4 787L488 778.2zM501.4 766.9L509.8 775.7L501.4 784.5L493 775.7zM506.4 764.3L514.8 773.1L506.4 781.9L498 773.1zM511.3 761.8L519.7 770.6L511.3 779.4L502.9 770.6zM516.3 759.4L524.7 768.2L516.3 777L507.9 768.2zM521.2 756.9L529.6 765.7L521.2 774.5L512.8 765.7zM526.2 754.5L534.6 763.3L526.2 772.1L517.8 763.3zM531.1 752.2L539.5 761L531.1 769.8L522.7 761zM536.1 749.9L544.5 758.7L536.1 767.5L527.7 758.7zM541.1 747.7L549.5 756.5L541.1 765.3L532.7 756.5zM546 745.6L554.4 754.4L546 763.2L537.6 754.4zM551 743.4L559.4 752.2L551 761L542.6 752.2zM555.9 741.3L564.3 750.1L555.9 758.9L547.5 750.1zM560.9 739.2L569.3 748L560.9 756.8L552.5 748zM565.9 737.1L574.3 745.9L565.9 754.7L557.5 745.9zM570.8 734.9L579.2 743.7L570.8 752.5L562.4 743.7zM575.8 732.7L584.2 741.5L575.8 750.3L567.4 741.5zM580.7 730.4L589.1 739.2L580.7 748L572.3 739.2zM585.7 728L594.1 736.8L585.7 745.6L577.3 736.8zM590.6 725.5L599 734.3L590.6 743.1L582.2 734.3zM595.6 723L604 731.8L595.6 740.6L587.2 731.8zM600.6 720.4L609 729.2L600.6 738L592.2 729.2zM605.5 717.8L613.9 726.6L605.5 735.4L597.1 726.6zM610.5 715.1L618.9 723.9L610.5 732.7L602.1 723.9zM615.4 712.3L623.8 721.1L615.4 729.9L607 721.1zM620.4 709.5L628.8 718.3L620.4 727.1L612 718.3z" fill="#00ffff"/>
<path d="M133.8 740.2L138.7 741.4L143.7 742.7L148.6 744.1L153.5 745.6L158.4 747.2L163.4 748.8L168.3 750.4L173.2 752.2L178.2 754L183.1 755.8L188 757.7L192.9 759.7L197.9 761.6L202.8 763.7L207.7 765.9L212.7 768.2L217.6 770.6L222.5 773.2L227.4 775.8L232.4 778.4L237.3 781L242.2 783.6L247.2 786.1L252.1 788.6L257 791L262 793.4L266.9 795.8L271.8 798.3L276.7 800.9L281.7 803.6L286.6 806.4L291.5 809.5L296.5 812.7L301.4 816.1L306.3 819.6L311.2 823.3L316.2 827.2L321.1 831.2L326 835.3L331 839.5L335.9 843.8L340.8 848.3L345.7 853L350.7 858L355.6 863.2L360.5 868.6L365.5 873.8L370.4 879.2L375.3 885.6L380.2 893.8L385.2 907.8L390.1 932L395.3 961.9L400.4 916.6L407 898.4L411.9 885L416.8 873.7L421.7 865.6L426.6 859.6L431.5 854.6L436.4 850.2L441.3 845.9L446.2 841.6L451.1 837.5L456 833.7L460.9 830.2L465.7 827L470.6 824.1L475.5 821.5L480.4 818.9L485.3 816.5L490.2 814.2L495.1 812L500 809.7L504.9 807.4L509.8 805.1L514.7 802.7L519.6 800.4L524.5 798.1L529.4 795.8L534.3 793.5L539.2 791.2L544.1 788.9L549 786.5L553.9 784L558.8 781.4L563.7 778.9L568.6 776.2L573.4 773.6L578.3 770.8L583.2 768.1L588.1 765.2L593 762.3L597.9 759.3L602.8 756.2L607.7 753L612.6 749.7L617.5 746.2L622.4 742.7L627.3 739.1" fill="none" stroke="#000080" stroke-width="3" stroke-linejoin="round"/>
<path d="M125.3 740.2L138.8 731.7L138.8 748.7zM130.2 741.4L143.7 732.9L143.7 749.9zM135.2 742.7L148.7 734.2L148.7 751.2zM140.1 744.1L153.6 735.6L153.6 752.6zM145 745.6L158.5 737.1L158.5 754.1zM149.9 747.2L163.4 738.7L163.4 755.7zM154.9 748.8L168.4 740.3L168.4 757.3zM159.8 750.4L173.3 741.9L173.3 758.9zM164.7 752.2L178.2 743.7L178.2 760.7zM169.7 754L183.2 745.5L183.2 762.5zM174.6 755.8L188.1 747.3L188.1 764.3zM179.5 757.7L193 749.2L193 766.2zM184.4 759.7L197.9 751.2L197.9 768.2zM189.4 761.6L202.9 753.1L202.9 770.1zM194.3 763.7L207.8 755.2L207.8 772.2zM199.2 765.9L212.7 757.4L212.7 774.4zM204.2 768.2L217.7 759.7L217.7 776.7zM209.1 770.6L222.6 762.1L222.6 779.1zM214 773.2L227.5 764.7L227.5 781.7zM218.9 775.8L232.4 767.3L232.4 784.3zM223.9 778.4L237.4 769.9L237.4 786.9zM228.8 781L242.3 772.5L242.3 789.5zM233.7 783.6L247.2 775.1L247.2 792.1zM238.7 786.1L252.2 777.6L252.2 794.6zM243.6 788.6L257.1 780.1L257.1 797.1zM248.5 791L262 782.5L262 799.5zM253.5 793.4L267 784.9L267 801.9zM258.4 795.8L271.9 787.3L271.9 804.3zM263.3 798.3L276.8 789.8L276.8 806.8zM268.2 800.9L281.7 792.4L281.7 809.4zM273.2 803.6L286.7 795.1L286.7 812.1zM278.1 806.4L291.6 797.9L291.6 814.9zM283 809.5L296.5 801L296.5 818zM288 812.7L301.5 804.2L301.5 821.2zM292.9 816.1L306.4 807.6L306.4 824.6zM297.8 819.6L311.3 811.1L311.3 828.1zM302.7 823.3L316.2 814.8L316.2 831.8zM307.7 827.2L321.2 818.7L321.2 835.7zM312.6 831.2L326.1 822.7L326.1 839.7zM317.5 835.3L331 826.8L331 843.8zM322.5 839.5L336 831L336 848zM327.4 843.8L340.9 835.3L340.9 852.3zM332.3 848.3L345.8 839.8L345.8 856.8zM337.2 853L350.7 844.5L350.7 861.5zM342.2 858L355.7 849.5L355.7 866.5zM347.1 863.2L360.6 854.7L360.6 871.7zM352 868.6L365.5 860.1L365.5 877.1zM357 873.8L370.5 865.3L370.5 882.3zM361.9 879.2L375.4 870.7L375.4 887.7zM366.8 885.6L380.3 877.1L380.3 894.1zM371.7 893.8L385.2 885.3L385.2 902.3zM376.7 907.8L390.2 899.3L390.2 916.3zM381.6 932L395.1 923.5L395.1 940.5zM386.8 961.9L400.3 953.4L400.3 970.4zM391.9 916.6L405.4 908.1L405.4 925.1zM398.5 898.4L412 889.9L412 906.9zM403.4 885L416.9 876.5L416.9 893.5zM408.3 873.7L421.8 865.2L421.8 882.2zM413.2 865.6L426.7 857.1L426.7 874.1zM418.1 859.6L431.6 851.1L431.6 868.1zM423 854.6L436.5 846.1L436.5 863.1zM427.9 850.2L441.4 841.7L441.4 858.7zM432.8 845.9L446.3 837.4L446.3 854.4zM437.7 841.6L451.2 833.1L451.2 850.1zM442.6 837.5L456.1 829L456.1 846zM447.5 833.7L461 825.2L461 842.2zM452.4 830.2L465.9 821.7L465.9 838.7zM457.2 827L470.7 818.5L470.7 835.5zM462.1 824.1L475.6 815.6L475.6 832.6zM467 821.5L480.5 813L480.5 830zM471.9 818.9L485.4 810.4L485.4 827.4zM476.8 816.5L490.3 808L490.3 825zM481.7 814.2L495.2 805.7L495.2 822.7zM486.6 812L500.1 803.5L500.1 820.5zM491.5 809.7L505 801.2L505 818.2zM496.4 807.4L509.9 798.9L509.9 815.9zM501.3 805.1L514.8 796.6L514.8 813.6zM506.2 802.7L519.7 794.2L519.7 811.2zM511.1 800.4L524.6 791.9L524.6 808.9zM516 798.1L529.5 789.6L529.5 806.6zM520.9 795.8L534.4 787.3L534.4 804.3zM525.8 793.5L539.3 785L539.3 802zM530.7 791.2L544.2 782.7L544.2 799.7zM535.6 788.9L549.1 780.4L549.1 797.4zM540.5 786.5L554 778L554 795zM545.4 784L558.9 775.5L558.9 792.5zM550.3 781.4L563.8 772.9L563.8 789.9zM555.2 778.9L568.7 770.4L568.7 787.4zM560.1 776.2L573.6 767.7L573.6 784.7zM564.9 773.6L578.4 765.1L578.4 782.1zM569.8 770.8L583.3 762.3L583.3 779.3zM574.7 768.1L588.2 759.6L588.2 776.6zM579.6 765.2L593.1 756.7L593.1 773.7zM584.5 762.3L598 753.8L598 770.8zM589.4 759.3L602.9 750.8L602.9 767.8zM594.3 756.2L607.8 747.7L607.8 764.7zM599.2 753L612.7 744.5L612.7 761.5zM604.1 749.7L617.6 741.2L617.6 758.2zM609 746.2L622.5 737.7L622.5 754.7zM613.9 742.7L627.4 734.2L627.4 751.2zM618.8 739.1L632.3 730.6L632.3 747.6z" fill="#000080"/>
<rect x="91.5" y="568.6" width="591.9" height="436.8" fill="none" stroke="#000" stroke-width="3.2"/>
<path d="M91.5 568.6h-9M91.5 585.4h-4.5M91.5 602.2h-9M91.5 619h-4.5M91.5 635.8h-9M91.5 652.6h-4.5M91.5 669.4h-9M91.5 686.2h-4.5M91.5 703h-9M91.5 719.8h-4.5M91.5 736.6h-9M91.5 753.4h-4.5M91.5 770.2h-9M91.5 787h-4.5M91.5 803.8h-9M91.5 820.6h-4.5M91.5 837.4h-9M91.5 854.2h-4.5M91.5 871h-9M91.5 887.8h-4.5M91.5 904.6h-9M91.5 921.4h-4.5M91.5 938.2h-9M91.5 955h-4.5M91.5 971.8h-9M91.5 988.6h-4.5M91.5 1005.4h-9M91 1005.4v4.5M140.4 1005.4v9M189.7 1005.4v4.5M239.1 1005.4v9M288.5 1005.4v4.5M337.8 1005.4v9M387.2 1005.4v4.5M436.6 1005.4v9M485.9 1005.4v4.5M535.3 1005.4v9M584.6 1005.4v4.5M634 1005.4v9M683.4 1005.4v4.5" stroke="#000" stroke-width="3.4" stroke-linecap="round" fill="none"/>
<g font-size="21.6" text-anchor="end">
<text x="77.4" y="575.3">-1.0</text>
<text x="77.4" y="608.9">-1.5</text>
<text x="77.4" y="642.5">-2.0</text>
<text x="77.4" y="676.1">-2.5</text>
<text x="77.4" y="709.7">-3.0</text>
<text x="77.4" y="743.3">-3.5</text>
<text x="77.4" y="776.9">-4.0</text>
<text x="77.4" y="810.5">-4.5</text>
<text x="77.4" y="844.1">-5.0</text>
<text x="77.4" y="877.7">-5.5</text>
<text x="77.4" y="911.3">-6.0</text>
<text x="77.4" y="944.9">-6.5</text>
<text x="77.4" y="978.5">-7.0</text>
<text x="77.4" y="1012.1">-7.5</text>
</g>
<g font-size="21.6" text-anchor="middle">
<text x="140.4" y="1036">-700</text>
<text x="239.1" y="1036">-600</text>
<text x="337.8" y="1036">-500</text>
<text x="436.6" y="1036">-400</text>
<text x="535.3" y="1036">-300</text>
<text x="634" y="1036">-200</text>
</g>
<text x="393" y="1075.2" font-size="26.4" text-anchor="middle"><tspan font-style="italic">E</tspan>/ mV vs. (Ag/AgCl)</text>
<text transform="translate(26 853.9) rotate(-90)" font-size="26" word-spacing="2.2">log <tspan font-style="italic">j</tspan><tspan dx="-3.8"> /</tspan><tspan dx="5.3"> A. cm</tspan><tspan font-size="16" dy="-14">-2</tspan></text>
<path d="M111.4 923.7H153.2" stroke="#000000" stroke-width="3" stroke-linecap="round"/>
<path d="M126.1 917.4h12.6v12.6h-12.6z" fill="#000000"/>
<text x="159" y="930.5" font-size="18.7">Blank Carbon Steel</text>
<path d="M111.4 951.2H153.2" stroke="#ff0000" stroke-width="3" stroke-linecap="round"/>
<path d="M125.4 951.2a7 7 0 1 0 14 0a7 7 0 1 0 -14 0z" fill="#ff0000"/>
<text x="159" y="958" font-size="18.7">2×10<tspan font-size="12.5" dy="-10.6">-5</tspan><tspan dy="10.6"> M</tspan></text>
<path d="M111.4 977.8H153.2" stroke="#008000" stroke-width="3" stroke-linecap="round"/>
<path d="M132.4 969.4L140.8 983.3L124 983.3z" fill="#008000"/>
<text x="159" y="984.6" font-size="18.7">5×10<tspan font-size="12.5" dy="-10.6">-5</tspan><tspan dy="10.6"> M</tspan></text>
<path d="M546.6 926.6H588.5" stroke="#0000ff" stroke-width="3" stroke-linecap="round"/>
<path d="M567.4 936.2L575.8 922.2L559 922.2z" fill="#0000ff"/>
<text x="594" y="933.4" font-size="18.7">1×10<tspan font-size="12.5" dy="-10.6">-4</tspan><tspan dy="10.6"> M</tspan></text>
<path d="M546.6 953.7H588.5" stroke="#00ffff" stroke-width="3" stroke-linecap="round"/>
<path d="M567.4 944.9L575.8 953.7L567.4 962.5L559 953.7z" fill="#00ffff"/>
<text x="594" y="960.5" font-size="18.7">5×10<tspan font-size="12.5" dy="-10.6">-4</tspan><tspan dy="10.6"> M</tspan></text>
<path d="M546.6 981.7H588.5" stroke="#000080" stroke-width="3" stroke-linecap="round"/>
<path d="M558.9 981.7L572.4 973.2L572.4 990.2z" fill="#000080"/>
<text x="594" y="988.5" font-size="18.7">1×10<tspan font-size="12.5" dy="-10.6">-3</tspan><tspan dy="10.6"> M</tspan></text>
<text x="420.3" y="638.7" font-size="35.5" text-anchor="middle">B</text>
</g>
</svg>
</body>
</html>
